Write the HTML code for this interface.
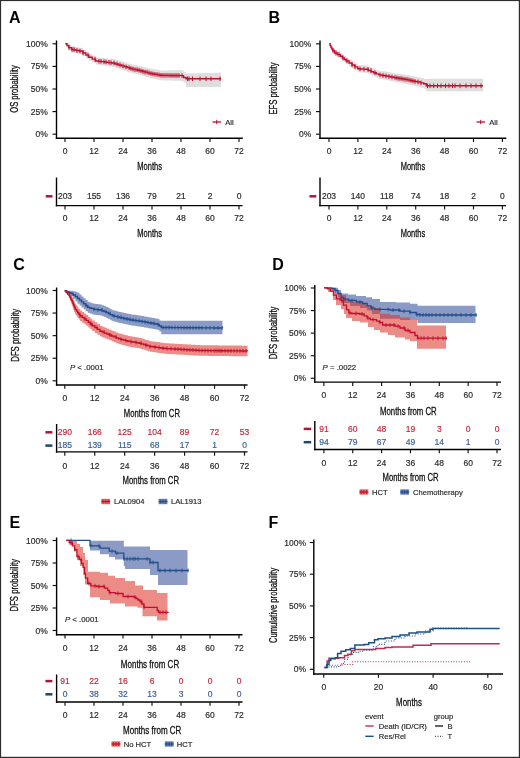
<!DOCTYPE html>
<html><head><meta charset="utf-8"><style>
html,body{margin:0;padding:0;background:#fff;}
body{width:520px;height:758px;overflow:hidden;font-family:"Liberation Sans",sans-serif;}
svg{display:block;will-change:transform;}
</style></head><body>
<svg width="520" height="758" viewBox="0 0 520 758">
<rect x="0" y="0" width="520" height="758" fill="#fff"/>
<text x="9.00" y="22.50" font-size="16" text-anchor="start" fill="#000" font-weight="bold" font-family="Liberation Sans">A</text>
<line x1="56.50" y1="40.50" x2="56.50" y2="139.00" stroke="#000" stroke-width="1.4" />
<line x1="55.80" y1="138.30" x2="242.80" y2="138.30" stroke="#000" stroke-width="1.4" />
<line x1="52.50" y1="134.20" x2="56.50" y2="134.20" stroke="#111" stroke-width="1.15" />
<text x="47.80" y="137.20" font-size="8.5" text-anchor="end" fill="#2b2b2b" font-weight="normal" font-family="Liberation Sans" stroke="#2b2b2b" stroke-width="0.18">0%</text>
<line x1="52.50" y1="111.60" x2="56.50" y2="111.60" stroke="#111" stroke-width="1.15" />
<text x="47.80" y="114.60" font-size="8.5" text-anchor="end" fill="#2b2b2b" font-weight="normal" font-family="Liberation Sans" stroke="#2b2b2b" stroke-width="0.18">25%</text>
<line x1="52.50" y1="89.00" x2="56.50" y2="89.00" stroke="#111" stroke-width="1.15" />
<text x="47.80" y="92.00" font-size="8.5" text-anchor="end" fill="#2b2b2b" font-weight="normal" font-family="Liberation Sans" stroke="#2b2b2b" stroke-width="0.18">50%</text>
<line x1="52.50" y1="66.40" x2="56.50" y2="66.40" stroke="#111" stroke-width="1.15" />
<text x="47.80" y="69.40" font-size="8.5" text-anchor="end" fill="#2b2b2b" font-weight="normal" font-family="Liberation Sans" stroke="#2b2b2b" stroke-width="0.18">75%</text>
<line x1="52.50" y1="43.80" x2="56.50" y2="43.80" stroke="#111" stroke-width="1.15" />
<text x="47.80" y="46.80" font-size="8.5" text-anchor="end" fill="#2b2b2b" font-weight="normal" font-family="Liberation Sans" stroke="#2b2b2b" stroke-width="0.18">100%</text>
<line x1="65.00" y1="138.30" x2="65.00" y2="142.10" stroke="#111" stroke-width="1.15" />
<text x="65.00" y="153.80" font-size="8.5" text-anchor="middle" fill="#2b2b2b" font-weight="normal" font-family="Liberation Sans" stroke="#2b2b2b" stroke-width="0.18">0</text>
<line x1="94.00" y1="138.30" x2="94.00" y2="142.10" stroke="#111" stroke-width="1.15" />
<text x="94.00" y="153.80" font-size="8.5" text-anchor="middle" fill="#2b2b2b" font-weight="normal" font-family="Liberation Sans" stroke="#2b2b2b" stroke-width="0.18">12</text>
<line x1="123.00" y1="138.30" x2="123.00" y2="142.10" stroke="#111" stroke-width="1.15" />
<text x="123.00" y="153.80" font-size="8.5" text-anchor="middle" fill="#2b2b2b" font-weight="normal" font-family="Liberation Sans" stroke="#2b2b2b" stroke-width="0.18">24</text>
<line x1="152.00" y1="138.30" x2="152.00" y2="142.10" stroke="#111" stroke-width="1.15" />
<text x="152.00" y="153.80" font-size="8.5" text-anchor="middle" fill="#2b2b2b" font-weight="normal" font-family="Liberation Sans" stroke="#2b2b2b" stroke-width="0.18">36</text>
<line x1="181.00" y1="138.30" x2="181.00" y2="142.10" stroke="#111" stroke-width="1.15" />
<text x="181.00" y="153.80" font-size="8.5" text-anchor="middle" fill="#2b2b2b" font-weight="normal" font-family="Liberation Sans" stroke="#2b2b2b" stroke-width="0.18">48</text>
<line x1="210.00" y1="138.30" x2="210.00" y2="142.10" stroke="#111" stroke-width="1.15" />
<text x="210.00" y="153.80" font-size="8.5" text-anchor="middle" fill="#2b2b2b" font-weight="normal" font-family="Liberation Sans" stroke="#2b2b2b" stroke-width="0.18">60</text>
<line x1="239.00" y1="138.30" x2="239.00" y2="142.10" stroke="#111" stroke-width="1.15" />
<text x="239.00" y="153.80" font-size="8.5" text-anchor="middle" fill="#2b2b2b" font-weight="normal" font-family="Liberation Sans" stroke="#2b2b2b" stroke-width="0.18">72</text>
<text x="18.10" y="89.00" font-size="10.6" text-anchor="middle" fill="#111" stroke="#111" stroke-width="0.3" font-family="Liberation Sans" textLength="47.5" lengthAdjust="spacingAndGlyphs" transform="rotate(-90 18.10 89.00)">OS probability</text>
<text x="149.60" y="169.60" font-size="10.9" text-anchor="middle" fill="#111" stroke="#111" stroke-width="0.3" font-family="Liberation Sans" textLength="24.6" lengthAdjust="spacingAndGlyphs">Months</text>
<path d="M65.30,43.79H67.00V44.10H68.70V44.81H71.50V46.37H74.07V46.82H76.63V47.27H79.20V47.72H83.00V49.64H85.90V51.68H88.80V53.72H92.20V55.56H95.60V57.39H98.47V57.66H101.33V57.94H104.20V58.22H106.80V58.50H109.40V58.78H112.00V59.06H115.17V59.96H118.33V60.87H121.50V61.77H124.33V62.58H127.17V63.39H130.00V64.20H132.50V64.73H135.00V65.25H137.50V65.77H140.00V66.30H142.50V66.92H145.00V67.55H147.50V68.17H150.00V68.80H152.50V69.20H155.00V69.60H157.50V70.00H160.00V70.40H162.50V70.39H165.00V70.38H167.50V70.36H170.00V70.35H172.50V70.34H175.00V70.32H177.50V70.31H180.00V70.30H183.50V72.13H186.00V73.38H188.50V73.33H191.00V73.28H193.50V73.23H196.00V73.18H198.50V73.13H201.00V73.08H203.50V73.03H206.00V72.98H208.50V72.93H211.00V72.88H213.50V72.83H216.00V72.78H218.50V72.73H221.00V72.68L221.00,87.10L221.00,87.10L218.50,87.10L218.50,87.10L216.00,87.10L216.00,87.10L213.50,87.10L213.50,87.10L211.00,87.10L211.00,87.10L208.50,87.10L208.50,87.10L206.00,87.10L206.00,87.10L203.50,87.10L203.50,87.10L201.00,87.10L201.00,87.10L198.50,87.10L198.50,87.10L196.00,87.10L196.00,87.10L193.50,87.10L193.50,87.10L191.00,87.10L191.00,87.10L188.50,87.10L188.50,87.10L186.00,87.10L186.00,82.87L183.50,82.87L183.50,80.90L180.00,80.90L180.00,80.81L177.50,80.81L177.50,80.72L175.00,80.72L175.00,80.64L172.50,80.64L172.50,80.55L170.00,80.55L170.00,80.46L167.50,80.46L167.50,80.38L165.00,80.38L165.00,80.29L162.50,80.29L162.50,80.20L160.00,80.20L160.00,79.70L157.50,79.70L157.50,79.20L155.00,79.20L155.00,78.70L152.50,78.70L152.50,78.20L150.00,78.20L150.00,77.48L147.50,77.48L147.50,76.75L145.00,76.75L145.00,76.02L142.50,76.02L142.50,75.30L140.00,75.30L140.00,74.67L137.50,74.67L137.50,74.05L135.00,74.05L135.00,73.42L132.50,73.42L132.50,72.80L130.00,72.80L130.00,71.88L127.17,71.88L127.17,70.95L124.33,70.95L124.33,70.03L121.50,70.03L121.50,69.00L118.33,69.00L118.33,67.97L115.17,67.97L115.17,66.94L112.00,66.94L112.00,66.55L109.40,66.55L109.40,66.17L106.80,66.17L106.80,65.78L104.20,65.78L104.20,65.39L101.33,65.39L101.33,65.00L98.47,65.00L98.47,64.61L95.60,64.61L95.60,62.64L92.20,62.64L92.20,60.68L88.80,60.68L88.80,58.52L85.90,58.52L85.90,56.36L83.00,56.36L83.00,54.28L79.20,54.28L79.20,53.73L76.63,53.73L76.63,53.18L74.07,53.18L74.07,52.63L71.50,52.63L71.50,50.39L68.70,50.39L68.70,46.90L67.00,46.90L67.00,43.81L65.30,43.81Z" fill="#dedede" fill-opacity="1.0" stroke="none"/>
<path d="M65.30,43.80H67.00V45.50H68.70V47.60H71.50V49.50H74.07V50.00H76.63V50.50H79.20V51.00H83.00V53.00H85.90V55.10H88.80V57.20H92.20V59.10H95.60V61.00H98.47V61.33H101.33V61.67H104.20V62.00H106.80V62.33H109.40V62.67H112.00V63.00H115.17V63.97H118.33V64.93H121.50V65.90H124.33V66.77H127.17V67.63H130.00V68.50H132.50V69.08H135.00V69.65H137.50V70.22H140.00V70.80H142.50V71.47H145.00V72.15H147.50V72.83H150.00V73.50H152.50V73.95H155.00V74.40H157.50V74.85H160.00V75.30H162.50V75.34H165.00V75.38H167.50V75.41H170.00V75.45H172.50V75.49H175.00V75.52H177.50V75.56H180.00V75.60H183.50V77.50H186.00V78.80H188.50V78.80H191.00V78.80H193.50V78.80H196.00V78.80H198.50V78.80H201.00V78.80H203.50V78.80H206.00V78.80H208.50V78.80H211.00V78.80H213.50V78.80H216.00V78.80H218.50V78.80H221.00V78.80" fill="none" stroke="#c20e2e" stroke-width="1.4" />
<line x1="69.00" y1="45.30" x2="69.00" y2="49.90" stroke="#c20e2e" stroke-width="1.0" />
<line x1="72.00" y1="47.20" x2="72.00" y2="51.80" stroke="#c20e2e" stroke-width="1.0" />
<line x1="74.00" y1="47.20" x2="74.00" y2="51.80" stroke="#c20e2e" stroke-width="1.0" />
<line x1="77.00" y1="48.20" x2="77.00" y2="52.80" stroke="#c20e2e" stroke-width="1.0" />
<line x1="80.00" y1="48.70" x2="80.00" y2="53.30" stroke="#c20e2e" stroke-width="1.0" />
<line x1="83.00" y1="50.70" x2="83.00" y2="55.30" stroke="#c20e2e" stroke-width="1.0" />
<line x1="88.00" y1="52.80" x2="88.00" y2="57.40" stroke="#c20e2e" stroke-width="1.0" />
<line x1="95.00" y1="56.80" x2="95.00" y2="61.40" stroke="#c20e2e" stroke-width="1.0" />
<line x1="99.00" y1="59.03" x2="99.00" y2="63.63" stroke="#c20e2e" stroke-width="1.0" />
<line x1="101.00" y1="59.03" x2="101.00" y2="63.63" stroke="#c20e2e" stroke-width="1.0" />
<line x1="104.00" y1="59.37" x2="104.00" y2="63.97" stroke="#c20e2e" stroke-width="1.0" />
<line x1="106.00" y1="59.70" x2="106.00" y2="64.30" stroke="#c20e2e" stroke-width="1.0" />
<line x1="109.00" y1="60.03" x2="109.00" y2="64.63" stroke="#c20e2e" stroke-width="1.0" />
<line x1="111.00" y1="60.37" x2="111.00" y2="64.97" stroke="#c20e2e" stroke-width="1.0" />
<line x1="114.00" y1="60.70" x2="114.00" y2="65.30" stroke="#c20e2e" stroke-width="1.0" />
<line x1="117.00" y1="61.67" x2="117.00" y2="66.27" stroke="#c20e2e" stroke-width="1.0" />
<line x1="120.00" y1="62.63" x2="120.00" y2="67.23" stroke="#c20e2e" stroke-width="1.0" />
<line x1="123.00" y1="63.60" x2="123.00" y2="68.20" stroke="#c20e2e" stroke-width="1.0" />
<line x1="126.00" y1="64.47" x2="126.00" y2="69.07" stroke="#c20e2e" stroke-width="1.0" />
<line x1="129.00" y1="65.33" x2="129.00" y2="69.93" stroke="#c20e2e" stroke-width="1.0" />
<line x1="131.00" y1="66.20" x2="131.00" y2="70.80" stroke="#c20e2e" stroke-width="1.0" />
<line x1="133.00" y1="66.78" x2="133.00" y2="71.38" stroke="#c20e2e" stroke-width="1.0" />
<line x1="135.00" y1="67.35" x2="135.00" y2="71.95" stroke="#c20e2e" stroke-width="1.0" />
<line x1="137.00" y1="67.35" x2="137.00" y2="71.95" stroke="#c20e2e" stroke-width="1.0" />
<line x1="139.00" y1="67.92" x2="139.00" y2="72.52" stroke="#c20e2e" stroke-width="1.0" />
<line x1="141.00" y1="68.50" x2="141.00" y2="73.10" stroke="#c20e2e" stroke-width="1.0" />
<line x1="143.00" y1="69.17" x2="143.00" y2="73.77" stroke="#c20e2e" stroke-width="1.0" />
<line x1="145.00" y1="69.85" x2="145.00" y2="74.45" stroke="#c20e2e" stroke-width="1.0" />
<line x1="147.00" y1="69.85" x2="147.00" y2="74.45" stroke="#c20e2e" stroke-width="1.0" />
<line x1="149.00" y1="70.53" x2="149.00" y2="75.12" stroke="#c20e2e" stroke-width="1.0" />
<line x1="151.00" y1="71.20" x2="151.00" y2="75.80" stroke="#c20e2e" stroke-width="1.0" />
<line x1="153.00" y1="71.65" x2="153.00" y2="76.25" stroke="#c20e2e" stroke-width="1.0" />
<line x1="155.00" y1="72.10" x2="155.00" y2="76.70" stroke="#c20e2e" stroke-width="1.0" />
<line x1="157.00" y1="72.10" x2="157.00" y2="76.70" stroke="#c20e2e" stroke-width="1.0" />
<line x1="159.00" y1="72.55" x2="159.00" y2="77.15" stroke="#c20e2e" stroke-width="1.0" />
<line x1="161.00" y1="73.00" x2="161.00" y2="77.60" stroke="#c20e2e" stroke-width="1.0" />
<line x1="163.00" y1="73.04" x2="163.00" y2="77.64" stroke="#c20e2e" stroke-width="1.0" />
<line x1="165.00" y1="73.08" x2="165.00" y2="77.67" stroke="#c20e2e" stroke-width="1.0" />
<line x1="167.00" y1="73.08" x2="167.00" y2="77.67" stroke="#c20e2e" stroke-width="1.0" />
<line x1="169.00" y1="73.11" x2="169.00" y2="77.71" stroke="#c20e2e" stroke-width="1.0" />
<line x1="171.00" y1="73.15" x2="171.00" y2="77.75" stroke="#c20e2e" stroke-width="1.0" />
<line x1="173.00" y1="73.19" x2="173.00" y2="77.79" stroke="#c20e2e" stroke-width="1.0" />
<line x1="175.00" y1="73.22" x2="175.00" y2="77.82" stroke="#c20e2e" stroke-width="1.0" />
<line x1="177.00" y1="73.22" x2="177.00" y2="77.82" stroke="#c20e2e" stroke-width="1.0" />
<line x1="179.00" y1="73.26" x2="179.00" y2="77.86" stroke="#c20e2e" stroke-width="1.0" />
<line x1="182.00" y1="73.30" x2="182.00" y2="77.90" stroke="#c20e2e" stroke-width="1.0" />
<line x1="187.50" y1="76.50" x2="187.50" y2="81.10" stroke="#c20e2e" stroke-width="1.0" />
<line x1="189.00" y1="76.50" x2="189.00" y2="81.10" stroke="#c20e2e" stroke-width="1.0" />
<line x1="192.50" y1="76.50" x2="192.50" y2="81.10" stroke="#c20e2e" stroke-width="1.0" />
<line x1="200.00" y1="76.50" x2="200.00" y2="81.10" stroke="#c20e2e" stroke-width="1.0" />
<line x1="206.00" y1="76.50" x2="206.00" y2="81.10" stroke="#c20e2e" stroke-width="1.0" />
<line x1="211.00" y1="76.50" x2="211.00" y2="81.10" stroke="#c20e2e" stroke-width="1.0" />
<line x1="220.00" y1="76.50" x2="220.00" y2="81.10" stroke="#c20e2e" stroke-width="1.0" />
<line x1="212.50" y1="122.00" x2="221.00" y2="122.00" stroke="#c20e2e" stroke-width="1.3" />
<line x1="216.70" y1="119.80" x2="216.70" y2="124.20" stroke="#c20e2e" stroke-width="1.0" />
<text x="225.30" y="124.70" font-size="7.6" text-anchor="start" fill="#2b2b2b" font-weight="normal" font-family="Liberation Sans" stroke="#2b2b2b" stroke-width="0.18">All</text>
<line x1="56.50" y1="177.50" x2="56.50" y2="206.30" stroke="#000" stroke-width="1.4" />
<line x1="55.80" y1="205.60" x2="242.50" y2="205.60" stroke="#000" stroke-width="1.4" />
<line x1="65.00" y1="205.60" x2="65.00" y2="209.40" stroke="#111" stroke-width="1.15" />
<text x="65.00" y="221.00" font-size="8.5" text-anchor="middle" fill="#2b2b2b" font-weight="normal" font-family="Liberation Sans" stroke="#2b2b2b" stroke-width="0.18">0</text>
<line x1="94.00" y1="205.60" x2="94.00" y2="209.40" stroke="#111" stroke-width="1.15" />
<text x="94.00" y="221.00" font-size="8.5" text-anchor="middle" fill="#2b2b2b" font-weight="normal" font-family="Liberation Sans" stroke="#2b2b2b" stroke-width="0.18">12</text>
<line x1="123.00" y1="205.60" x2="123.00" y2="209.40" stroke="#111" stroke-width="1.15" />
<text x="123.00" y="221.00" font-size="8.5" text-anchor="middle" fill="#2b2b2b" font-weight="normal" font-family="Liberation Sans" stroke="#2b2b2b" stroke-width="0.18">24</text>
<line x1="152.00" y1="205.60" x2="152.00" y2="209.40" stroke="#111" stroke-width="1.15" />
<text x="152.00" y="221.00" font-size="8.5" text-anchor="middle" fill="#2b2b2b" font-weight="normal" font-family="Liberation Sans" stroke="#2b2b2b" stroke-width="0.18">36</text>
<line x1="181.00" y1="205.60" x2="181.00" y2="209.40" stroke="#111" stroke-width="1.15" />
<text x="181.00" y="221.00" font-size="8.5" text-anchor="middle" fill="#2b2b2b" font-weight="normal" font-family="Liberation Sans" stroke="#2b2b2b" stroke-width="0.18">48</text>
<line x1="210.00" y1="205.60" x2="210.00" y2="209.40" stroke="#111" stroke-width="1.15" />
<text x="210.00" y="221.00" font-size="8.5" text-anchor="middle" fill="#2b2b2b" font-weight="normal" font-family="Liberation Sans" stroke="#2b2b2b" stroke-width="0.18">60</text>
<line x1="239.00" y1="205.60" x2="239.00" y2="209.40" stroke="#111" stroke-width="1.15" />
<text x="239.00" y="221.00" font-size="8.5" text-anchor="middle" fill="#2b2b2b" font-weight="normal" font-family="Liberation Sans" stroke="#2b2b2b" stroke-width="0.18">72</text>
<line x1="45.70" y1="196.30" x2="52.50" y2="196.30" stroke="#a8183a" stroke-width="2.5" />
<text x="65.00" y="199.00" font-size="8.5" text-anchor="middle" fill="#2b2b2b" font-weight="normal" font-family="Liberation Sans" stroke="#2b2b2b" stroke-width="0.18">203</text>
<text x="94.00" y="199.00" font-size="8.5" text-anchor="middle" fill="#2b2b2b" font-weight="normal" font-family="Liberation Sans" stroke="#2b2b2b" stroke-width="0.18">155</text>
<text x="123.00" y="199.00" font-size="8.5" text-anchor="middle" fill="#2b2b2b" font-weight="normal" font-family="Liberation Sans" stroke="#2b2b2b" stroke-width="0.18">136</text>
<text x="152.00" y="199.00" font-size="8.5" text-anchor="middle" fill="#2b2b2b" font-weight="normal" font-family="Liberation Sans" stroke="#2b2b2b" stroke-width="0.18">79</text>
<text x="181.00" y="199.00" font-size="8.5" text-anchor="middle" fill="#2b2b2b" font-weight="normal" font-family="Liberation Sans" stroke="#2b2b2b" stroke-width="0.18">21</text>
<text x="210.00" y="199.00" font-size="8.5" text-anchor="middle" fill="#2b2b2b" font-weight="normal" font-family="Liberation Sans" stroke="#2b2b2b" stroke-width="0.18">2</text>
<text x="239.00" y="199.00" font-size="8.5" text-anchor="middle" fill="#2b2b2b" font-weight="normal" font-family="Liberation Sans" stroke="#2b2b2b" stroke-width="0.18">0</text>
<text x="149.60" y="236.60" font-size="10.9" text-anchor="middle" fill="#111" stroke="#111" stroke-width="0.3" font-family="Liberation Sans" textLength="24.6" lengthAdjust="spacingAndGlyphs">Months</text>
<text x="268.50" y="22.50" font-size="16" text-anchor="start" fill="#000" font-weight="bold" font-family="Liberation Sans">B</text>
<line x1="320.00" y1="40.50" x2="320.00" y2="139.00" stroke="#000" stroke-width="1.4" />
<line x1="319.30" y1="138.30" x2="506.30" y2="138.30" stroke="#000" stroke-width="1.4" />
<line x1="316.00" y1="134.20" x2="320.00" y2="134.20" stroke="#111" stroke-width="1.15" />
<text x="311.30" y="137.20" font-size="8.5" text-anchor="end" fill="#2b2b2b" font-weight="normal" font-family="Liberation Sans" stroke="#2b2b2b" stroke-width="0.18">0%</text>
<line x1="316.00" y1="111.60" x2="320.00" y2="111.60" stroke="#111" stroke-width="1.15" />
<text x="311.30" y="114.60" font-size="8.5" text-anchor="end" fill="#2b2b2b" font-weight="normal" font-family="Liberation Sans" stroke="#2b2b2b" stroke-width="0.18">25%</text>
<line x1="316.00" y1="89.00" x2="320.00" y2="89.00" stroke="#111" stroke-width="1.15" />
<text x="311.30" y="92.00" font-size="8.5" text-anchor="end" fill="#2b2b2b" font-weight="normal" font-family="Liberation Sans" stroke="#2b2b2b" stroke-width="0.18">50%</text>
<line x1="316.00" y1="66.40" x2="320.00" y2="66.40" stroke="#111" stroke-width="1.15" />
<text x="311.30" y="69.40" font-size="8.5" text-anchor="end" fill="#2b2b2b" font-weight="normal" font-family="Liberation Sans" stroke="#2b2b2b" stroke-width="0.18">75%</text>
<line x1="316.00" y1="43.80" x2="320.00" y2="43.80" stroke="#111" stroke-width="1.15" />
<text x="311.30" y="46.80" font-size="8.5" text-anchor="end" fill="#2b2b2b" font-weight="normal" font-family="Liberation Sans" stroke="#2b2b2b" stroke-width="0.18">100%</text>
<line x1="329.00" y1="138.30" x2="329.00" y2="142.10" stroke="#111" stroke-width="1.15" />
<text x="329.00" y="153.80" font-size="8.5" text-anchor="middle" fill="#2b2b2b" font-weight="normal" font-family="Liberation Sans" stroke="#2b2b2b" stroke-width="0.18">0</text>
<line x1="357.90" y1="138.30" x2="357.90" y2="142.10" stroke="#111" stroke-width="1.15" />
<text x="357.90" y="153.80" font-size="8.5" text-anchor="middle" fill="#2b2b2b" font-weight="normal" font-family="Liberation Sans" stroke="#2b2b2b" stroke-width="0.18">12</text>
<line x1="386.80" y1="138.30" x2="386.80" y2="142.10" stroke="#111" stroke-width="1.15" />
<text x="386.80" y="153.80" font-size="8.5" text-anchor="middle" fill="#2b2b2b" font-weight="normal" font-family="Liberation Sans" stroke="#2b2b2b" stroke-width="0.18">24</text>
<line x1="415.70" y1="138.30" x2="415.70" y2="142.10" stroke="#111" stroke-width="1.15" />
<text x="415.70" y="153.80" font-size="8.5" text-anchor="middle" fill="#2b2b2b" font-weight="normal" font-family="Liberation Sans" stroke="#2b2b2b" stroke-width="0.18">36</text>
<line x1="444.60" y1="138.30" x2="444.60" y2="142.10" stroke="#111" stroke-width="1.15" />
<text x="444.60" y="153.80" font-size="8.5" text-anchor="middle" fill="#2b2b2b" font-weight="normal" font-family="Liberation Sans" stroke="#2b2b2b" stroke-width="0.18">48</text>
<line x1="473.50" y1="138.30" x2="473.50" y2="142.10" stroke="#111" stroke-width="1.15" />
<text x="473.50" y="153.80" font-size="8.5" text-anchor="middle" fill="#2b2b2b" font-weight="normal" font-family="Liberation Sans" stroke="#2b2b2b" stroke-width="0.18">60</text>
<line x1="502.40" y1="138.30" x2="502.40" y2="142.10" stroke="#111" stroke-width="1.15" />
<text x="502.40" y="153.80" font-size="8.5" text-anchor="middle" fill="#2b2b2b" font-weight="normal" font-family="Liberation Sans" stroke="#2b2b2b" stroke-width="0.18">72</text>
<text x="277.20" y="88.50" font-size="10.6" text-anchor="middle" fill="#111" stroke="#111" stroke-width="0.3" font-family="Liberation Sans" textLength="52.2" lengthAdjust="spacingAndGlyphs" transform="rotate(-90 277.20 88.50)">EFS probability</text>
<text x="413.00" y="169.60" font-size="10.9" text-anchor="middle" fill="#111" stroke="#111" stroke-width="0.3" font-family="Liberation Sans" textLength="24.6" lengthAdjust="spacingAndGlyphs">Months</text>
<path d="M329.20,43.80H330.10V44.91H331.00V46.02H331.85V46.82H332.70V47.63H334.60V49.89H337.50V51.48H340.40V53.07H342.33V54.60H344.27V56.13H346.20V57.66H349.10V59.60H352.00V61.54H354.85V63.38H357.70V65.23H360.27V65.34H362.83V65.46H365.40V65.57H368.30V66.71H371.20V67.86H373.73V68.87H376.27V69.89H378.80V70.90H382.03V71.37H385.27V71.84H388.50V72.31H391.00V72.76H393.50V73.21H396.00V73.66H399.00V74.07H402.00V74.47H405.00V74.88H407.50V75.35H410.00V75.82H412.50V76.29H415.00V76.76H417.50V77.23H420.60V78.07H423.70V78.91H426.20V78.80H428.78V78.80H431.36V78.80H433.95V78.80H436.53V78.80H439.11V78.80H441.69V78.80H444.27V78.80H446.85V78.80H449.44V78.80H452.02V78.80H454.60V78.80H457.18V78.80H459.76V78.80H462.35V78.80H464.93V78.80H467.51V78.80H470.09V78.80H472.67V78.80H475.25V78.80H477.84V78.80H480.42V78.80H483.00V78.80L483.00,91.30L483.00,91.30L480.42,91.30L480.42,91.30L477.84,91.30L477.84,91.30L475.25,91.30L475.25,91.30L472.67,91.30L472.67,91.30L470.09,91.30L470.09,91.30L467.51,91.30L467.51,91.30L464.93,91.30L464.93,91.30L462.35,91.30L462.35,91.30L459.76,91.30L459.76,91.30L457.18,91.30L457.18,91.30L454.60,91.30L454.60,91.30L452.02,91.30L452.02,91.30L449.44,91.30L449.44,91.30L446.85,91.30L446.85,91.30L444.27,91.30L444.27,91.30L441.69,91.30L441.69,91.30L439.11,91.30L439.11,91.30L436.53,91.30L436.53,91.30L433.95,91.30L433.95,91.30L431.36,91.30L431.36,91.30L428.78,91.30L428.78,91.30L426.20,91.30L426.20,88.69L423.70,88.69L423.70,87.73L420.60,87.73L420.60,86.77L417.50,86.77L417.50,86.20L415.00,86.20L415.00,85.63L412.50,85.63L412.50,85.06L410.00,85.06L410.00,84.49L407.50,84.49L407.50,83.92L405.00,83.92L405.00,83.39L402.00,83.39L402.00,82.87L399.00,82.87L399.00,82.34L396.00,82.34L396.00,81.79L393.50,81.79L393.50,81.24L391.00,81.24L391.00,80.69L388.50,80.69L388.50,80.09L385.27,80.09L385.27,79.49L382.03,79.49L382.03,78.90L378.80,78.90L378.80,77.78L376.27,77.78L376.27,76.66L373.73,76.66L373.73,75.54L371.20,75.54L371.20,74.29L368.30,74.29L368.30,73.03L365.40,73.03L365.40,72.81L362.83,72.81L362.83,72.59L360.27,72.59L360.27,72.37L357.70,72.37L357.70,70.42L354.85,70.42L354.85,68.46L352.00,68.46L352.00,66.40L349.10,66.40L349.10,64.34L346.20,64.34L346.20,62.74L344.27,62.74L344.27,61.13L342.33,61.13L342.33,59.53L340.40,59.53L340.40,57.82L337.50,57.82L337.50,56.11L334.60,56.11L334.60,53.37L332.70,53.37L332.70,51.18L331.85,51.18L331.85,48.98L331.00,48.98L331.00,46.39L330.10,46.39L330.10,43.80L329.20,43.80Z" fill="#dedede" fill-opacity="1.0" stroke="none"/>
<path d="M329.20,43.80H330.10V45.65H331.00V47.50H331.85V49.00H332.70V50.50H334.60V53.00H337.50V54.65H340.40V56.30H342.33V57.87H344.27V59.43H346.20V61.00H349.10V63.00H352.00V65.00H354.85V66.90H357.70V68.80H360.27V68.97H362.83V69.13H365.40V69.30H368.30V70.50H371.20V71.70H373.73V72.77H376.27V73.83H378.80V74.90H382.03V75.43H385.27V75.97H388.50V76.50H391.00V77.00H393.50V77.50H396.00V78.00H399.00V78.47H402.00V78.93H405.00V79.40H407.50V79.92H410.00V80.44H412.50V80.96H415.00V81.48H417.50V82.00H420.60V82.90H423.70V83.80H426.20V85.80H428.78V85.80H431.36V85.80H433.95V85.80H436.53V85.80H439.11V85.80H441.69V85.80H444.27V85.80H446.85V85.80H449.44V85.80H452.02V85.80H454.60V85.80H457.18V85.80H459.76V85.80H462.35V85.80H464.93V85.80H467.51V85.80H470.09V85.80H472.67V85.80H475.25V85.80H477.84V85.80H480.42V85.80H483.00V85.80" fill="none" stroke="#c20e2e" stroke-width="1.4" />
<line x1="333.00" y1="48.20" x2="333.00" y2="52.80" stroke="#c20e2e" stroke-width="1.0" />
<line x1="336.00" y1="50.70" x2="336.00" y2="55.30" stroke="#c20e2e" stroke-width="1.0" />
<line x1="339.00" y1="52.35" x2="339.00" y2="56.95" stroke="#c20e2e" stroke-width="1.0" />
<line x1="343.00" y1="55.57" x2="343.00" y2="60.17" stroke="#c20e2e" stroke-width="1.0" />
<line x1="347.00" y1="58.70" x2="347.00" y2="63.30" stroke="#c20e2e" stroke-width="1.0" />
<line x1="352.00" y1="62.70" x2="352.00" y2="67.30" stroke="#c20e2e" stroke-width="1.0" />
<line x1="355.00" y1="64.60" x2="355.00" y2="69.20" stroke="#c20e2e" stroke-width="1.0" />
<line x1="360.00" y1="66.50" x2="360.00" y2="71.10" stroke="#c20e2e" stroke-width="1.0" />
<line x1="364.00" y1="66.83" x2="364.00" y2="71.43" stroke="#c20e2e" stroke-width="1.0" />
<line x1="368.00" y1="67.00" x2="368.00" y2="71.60" stroke="#c20e2e" stroke-width="1.0" />
<line x1="371.00" y1="68.20" x2="371.00" y2="72.80" stroke="#c20e2e" stroke-width="1.0" />
<line x1="375.00" y1="70.47" x2="375.00" y2="75.07" stroke="#c20e2e" stroke-width="1.0" />
<line x1="380.00" y1="72.60" x2="380.00" y2="77.20" stroke="#c20e2e" stroke-width="1.0" />
<line x1="383.00" y1="73.13" x2="383.00" y2="77.73" stroke="#c20e2e" stroke-width="1.0" />
<line x1="386.00" y1="73.67" x2="386.00" y2="78.27" stroke="#c20e2e" stroke-width="1.0" />
<line x1="389.00" y1="74.20" x2="389.00" y2="78.80" stroke="#c20e2e" stroke-width="1.0" />
<line x1="392.00" y1="74.70" x2="392.00" y2="79.30" stroke="#c20e2e" stroke-width="1.0" />
<line x1="395.00" y1="75.20" x2="395.00" y2="79.80" stroke="#c20e2e" stroke-width="1.0" />
<line x1="397.00" y1="75.70" x2="397.00" y2="80.30" stroke="#c20e2e" stroke-width="1.0" />
<line x1="399.00" y1="76.17" x2="399.00" y2="80.77" stroke="#c20e2e" stroke-width="1.0" />
<line x1="401.00" y1="76.17" x2="401.00" y2="80.77" stroke="#c20e2e" stroke-width="1.0" />
<line x1="403.00" y1="76.63" x2="403.00" y2="81.23" stroke="#c20e2e" stroke-width="1.0" />
<line x1="405.00" y1="77.10" x2="405.00" y2="81.70" stroke="#c20e2e" stroke-width="1.0" />
<line x1="407.00" y1="77.10" x2="407.00" y2="81.70" stroke="#c20e2e" stroke-width="1.0" />
<line x1="409.00" y1="77.62" x2="409.00" y2="82.22" stroke="#c20e2e" stroke-width="1.0" />
<line x1="411.00" y1="78.14" x2="411.00" y2="82.74" stroke="#c20e2e" stroke-width="1.0" />
<line x1="413.00" y1="78.66" x2="413.00" y2="83.26" stroke="#c20e2e" stroke-width="1.0" />
<line x1="415.00" y1="79.18" x2="415.00" y2="83.78" stroke="#c20e2e" stroke-width="1.0" />
<line x1="418.00" y1="79.70" x2="418.00" y2="84.30" stroke="#c20e2e" stroke-width="1.0" />
<line x1="421.00" y1="80.60" x2="421.00" y2="85.20" stroke="#c20e2e" stroke-width="1.0" />
<line x1="427.50" y1="83.50" x2="427.50" y2="88.10" stroke="#c20e2e" stroke-width="1.0" />
<line x1="430.00" y1="83.50" x2="430.00" y2="88.10" stroke="#c20e2e" stroke-width="1.0" />
<line x1="433.70" y1="83.50" x2="433.70" y2="88.10" stroke="#c20e2e" stroke-width="1.0" />
<line x1="437.50" y1="83.50" x2="437.50" y2="88.10" stroke="#c20e2e" stroke-width="1.0" />
<line x1="441.00" y1="83.50" x2="441.00" y2="88.10" stroke="#c20e2e" stroke-width="1.0" />
<line x1="445.50" y1="83.50" x2="445.50" y2="88.10" stroke="#c20e2e" stroke-width="1.0" />
<line x1="449.00" y1="83.50" x2="449.00" y2="88.10" stroke="#c20e2e" stroke-width="1.0" />
<line x1="452.50" y1="83.50" x2="452.50" y2="88.10" stroke="#c20e2e" stroke-width="1.0" />
<line x1="455.00" y1="83.50" x2="455.00" y2="88.10" stroke="#c20e2e" stroke-width="1.0" />
<line x1="460.00" y1="83.50" x2="460.00" y2="88.10" stroke="#c20e2e" stroke-width="1.0" />
<line x1="466.00" y1="83.50" x2="466.00" y2="88.10" stroke="#c20e2e" stroke-width="1.0" />
<line x1="471.00" y1="83.50" x2="471.00" y2="88.10" stroke="#c20e2e" stroke-width="1.0" />
<line x1="476.00" y1="83.50" x2="476.00" y2="88.10" stroke="#c20e2e" stroke-width="1.0" />
<line x1="481.00" y1="83.50" x2="481.00" y2="88.10" stroke="#c20e2e" stroke-width="1.0" />
<line x1="476.50" y1="122.00" x2="485.00" y2="122.00" stroke="#c20e2e" stroke-width="1.3" />
<line x1="480.70" y1="119.80" x2="480.70" y2="124.20" stroke="#c20e2e" stroke-width="1.0" />
<text x="489.30" y="124.70" font-size="7.6" text-anchor="start" fill="#2b2b2b" font-weight="normal" font-family="Liberation Sans" stroke="#2b2b2b" stroke-width="0.18">All</text>
<line x1="320.00" y1="177.50" x2="320.00" y2="206.30" stroke="#000" stroke-width="1.4" />
<line x1="319.30" y1="205.60" x2="506.00" y2="205.60" stroke="#000" stroke-width="1.4" />
<line x1="329.00" y1="205.60" x2="329.00" y2="209.40" stroke="#111" stroke-width="1.15" />
<text x="329.00" y="221.00" font-size="8.5" text-anchor="middle" fill="#2b2b2b" font-weight="normal" font-family="Liberation Sans" stroke="#2b2b2b" stroke-width="0.18">0</text>
<line x1="357.90" y1="205.60" x2="357.90" y2="209.40" stroke="#111" stroke-width="1.15" />
<text x="357.90" y="221.00" font-size="8.5" text-anchor="middle" fill="#2b2b2b" font-weight="normal" font-family="Liberation Sans" stroke="#2b2b2b" stroke-width="0.18">12</text>
<line x1="386.80" y1="205.60" x2="386.80" y2="209.40" stroke="#111" stroke-width="1.15" />
<text x="386.80" y="221.00" font-size="8.5" text-anchor="middle" fill="#2b2b2b" font-weight="normal" font-family="Liberation Sans" stroke="#2b2b2b" stroke-width="0.18">24</text>
<line x1="415.70" y1="205.60" x2="415.70" y2="209.40" stroke="#111" stroke-width="1.15" />
<text x="415.70" y="221.00" font-size="8.5" text-anchor="middle" fill="#2b2b2b" font-weight="normal" font-family="Liberation Sans" stroke="#2b2b2b" stroke-width="0.18">36</text>
<line x1="444.60" y1="205.60" x2="444.60" y2="209.40" stroke="#111" stroke-width="1.15" />
<text x="444.60" y="221.00" font-size="8.5" text-anchor="middle" fill="#2b2b2b" font-weight="normal" font-family="Liberation Sans" stroke="#2b2b2b" stroke-width="0.18">48</text>
<line x1="473.50" y1="205.60" x2="473.50" y2="209.40" stroke="#111" stroke-width="1.15" />
<text x="473.50" y="221.00" font-size="8.5" text-anchor="middle" fill="#2b2b2b" font-weight="normal" font-family="Liberation Sans" stroke="#2b2b2b" stroke-width="0.18">60</text>
<line x1="502.40" y1="205.60" x2="502.40" y2="209.40" stroke="#111" stroke-width="1.15" />
<text x="502.40" y="221.00" font-size="8.5" text-anchor="middle" fill="#2b2b2b" font-weight="normal" font-family="Liberation Sans" stroke="#2b2b2b" stroke-width="0.18">72</text>
<line x1="309.50" y1="196.30" x2="316.30" y2="196.30" stroke="#a8183a" stroke-width="2.5" />
<text x="329.00" y="199.00" font-size="8.5" text-anchor="middle" fill="#2b2b2b" font-weight="normal" font-family="Liberation Sans" stroke="#2b2b2b" stroke-width="0.18">203</text>
<text x="357.90" y="199.00" font-size="8.5" text-anchor="middle" fill="#2b2b2b" font-weight="normal" font-family="Liberation Sans" stroke="#2b2b2b" stroke-width="0.18">140</text>
<text x="386.80" y="199.00" font-size="8.5" text-anchor="middle" fill="#2b2b2b" font-weight="normal" font-family="Liberation Sans" stroke="#2b2b2b" stroke-width="0.18">118</text>
<text x="415.70" y="199.00" font-size="8.5" text-anchor="middle" fill="#2b2b2b" font-weight="normal" font-family="Liberation Sans" stroke="#2b2b2b" stroke-width="0.18">74</text>
<text x="444.60" y="199.00" font-size="8.5" text-anchor="middle" fill="#2b2b2b" font-weight="normal" font-family="Liberation Sans" stroke="#2b2b2b" stroke-width="0.18">18</text>
<text x="473.50" y="199.00" font-size="8.5" text-anchor="middle" fill="#2b2b2b" font-weight="normal" font-family="Liberation Sans" stroke="#2b2b2b" stroke-width="0.18">2</text>
<text x="502.40" y="199.00" font-size="8.5" text-anchor="middle" fill="#2b2b2b" font-weight="normal" font-family="Liberation Sans" stroke="#2b2b2b" stroke-width="0.18">0</text>
<text x="413.00" y="236.60" font-size="10.9" text-anchor="middle" fill="#111" stroke="#111" stroke-width="0.3" font-family="Liberation Sans" textLength="24.6" lengthAdjust="spacingAndGlyphs">Months</text>
<text x="13.30" y="269.50" font-size="16" text-anchor="start" fill="#000" font-weight="bold" font-family="Liberation Sans">C</text>
<line x1="56.60" y1="287.50" x2="56.60" y2="385.70" stroke="#000" stroke-width="1.4" />
<line x1="55.90" y1="385.00" x2="247.50" y2="385.00" stroke="#000" stroke-width="1.4" />
<line x1="52.60" y1="380.80" x2="56.60" y2="380.80" stroke="#111" stroke-width="1.15" />
<text x="47.80" y="383.80" font-size="8.5" text-anchor="end" fill="#2b2b2b" font-weight="normal" font-family="Liberation Sans" stroke="#2b2b2b" stroke-width="0.18">0%</text>
<line x1="52.60" y1="358.23" x2="56.60" y2="358.23" stroke="#111" stroke-width="1.15" />
<text x="47.80" y="361.23" font-size="8.5" text-anchor="end" fill="#2b2b2b" font-weight="normal" font-family="Liberation Sans" stroke="#2b2b2b" stroke-width="0.18">25%</text>
<line x1="52.60" y1="335.65" x2="56.60" y2="335.65" stroke="#111" stroke-width="1.15" />
<text x="47.80" y="338.65" font-size="8.5" text-anchor="end" fill="#2b2b2b" font-weight="normal" font-family="Liberation Sans" stroke="#2b2b2b" stroke-width="0.18">50%</text>
<line x1="52.60" y1="313.07" x2="56.60" y2="313.07" stroke="#111" stroke-width="1.15" />
<text x="47.80" y="316.07" font-size="8.5" text-anchor="end" fill="#2b2b2b" font-weight="normal" font-family="Liberation Sans" stroke="#2b2b2b" stroke-width="0.18">75%</text>
<line x1="52.60" y1="290.50" x2="56.60" y2="290.50" stroke="#111" stroke-width="1.15" />
<text x="47.80" y="293.50" font-size="8.5" text-anchor="end" fill="#2b2b2b" font-weight="normal" font-family="Liberation Sans" stroke="#2b2b2b" stroke-width="0.18">100%</text>
<line x1="64.80" y1="385.00" x2="64.80" y2="388.80" stroke="#111" stroke-width="1.15" />
<text x="64.80" y="400.60" font-size="8.5" text-anchor="middle" fill="#2b2b2b" font-weight="normal" font-family="Liberation Sans" stroke="#2b2b2b" stroke-width="0.18">0</text>
<line x1="94.75" y1="385.00" x2="94.75" y2="388.80" stroke="#111" stroke-width="1.15" />
<text x="94.75" y="400.60" font-size="8.5" text-anchor="middle" fill="#2b2b2b" font-weight="normal" font-family="Liberation Sans" stroke="#2b2b2b" stroke-width="0.18">12</text>
<line x1="124.70" y1="385.00" x2="124.70" y2="388.80" stroke="#111" stroke-width="1.15" />
<text x="124.70" y="400.60" font-size="8.5" text-anchor="middle" fill="#2b2b2b" font-weight="normal" font-family="Liberation Sans" stroke="#2b2b2b" stroke-width="0.18">24</text>
<line x1="154.65" y1="385.00" x2="154.65" y2="388.80" stroke="#111" stroke-width="1.15" />
<text x="154.65" y="400.60" font-size="8.5" text-anchor="middle" fill="#2b2b2b" font-weight="normal" font-family="Liberation Sans" stroke="#2b2b2b" stroke-width="0.18">36</text>
<line x1="184.60" y1="385.00" x2="184.60" y2="388.80" stroke="#111" stroke-width="1.15" />
<text x="184.60" y="400.60" font-size="8.5" text-anchor="middle" fill="#2b2b2b" font-weight="normal" font-family="Liberation Sans" stroke="#2b2b2b" stroke-width="0.18">48</text>
<line x1="214.55" y1="385.00" x2="214.55" y2="388.80" stroke="#111" stroke-width="1.15" />
<text x="214.55" y="400.60" font-size="8.5" text-anchor="middle" fill="#2b2b2b" font-weight="normal" font-family="Liberation Sans" stroke="#2b2b2b" stroke-width="0.18">60</text>
<line x1="244.50" y1="385.00" x2="244.50" y2="388.80" stroke="#111" stroke-width="1.15" />
<text x="244.50" y="400.60" font-size="8.5" text-anchor="middle" fill="#2b2b2b" font-weight="normal" font-family="Liberation Sans" stroke="#2b2b2b" stroke-width="0.18">72</text>
<text x="18.90" y="335.25" font-size="10.6" text-anchor="middle" fill="#111" stroke="#111" stroke-width="0.3" font-family="Liberation Sans" textLength="52.9" lengthAdjust="spacingAndGlyphs" transform="rotate(-90 18.90 335.25)">DFS probability</text>
<text x="151.90" y="416.50" font-size="10.9" text-anchor="middle" fill="#111" stroke="#111" stroke-width="0.3" font-family="Liberation Sans" textLength="56.2" lengthAdjust="spacingAndGlyphs">Months from CR</text>
<text x="70.00" y="369.80" font-size="7.8" text-anchor="start" fill="#2b2b2b" font-weight="normal" font-family="Liberation Sans" stroke="#2b2b2b" stroke-width="0.18"><tspan font-style="italic">P</tspan> &lt; .0001</text>
<path d="M64.60,290.80H66.67V290.77H68.73V290.74H70.80V290.71H73.10V291.18H75.40V291.64H77.43V292.80H79.47V294.60H81.50V296.40H83.57V298.20H85.63V300.00H87.70V301.80H89.73V302.47H91.77V303.13H93.80V303.80H95.87V304.03H97.93V304.27H100.00V304.50H102.07V305.30H104.13V306.10H106.20V306.90H108.23V308.03H110.27V309.17H112.30V310.30H114.60V310.85H116.90V311.40H119.20V311.95H121.50V312.50H123.83V313.00H126.15V313.50H128.48V314.00H130.80V314.50H133.10V314.80H135.40V315.10H137.70V315.40H140.00V315.70H142.00V316.06H144.00V316.42H146.00V316.78H148.00V317.14H150.00V317.50H152.50V318.00H155.00V318.50H157.50V319.00H159.35V320.50H161.20V320.80H163.24V320.80H165.29V320.80H167.33V320.80H169.37V320.80H171.42V320.80H173.46V320.80H175.50V320.80H177.55V320.80H179.59V320.80H181.63V320.80H183.68V320.80H185.72V320.80H187.76V320.80H189.81V320.80H191.85V320.80H193.89V320.80H195.94V320.80H197.98V320.80H200.02V320.80H202.07V320.80H204.11V320.80H206.15V320.80H208.20V320.80H210.24V320.80H212.28V320.80H214.33V320.80H216.37V320.80H218.41V320.80H220.46V320.80H222.50V320.80L222.50,334.20L222.50,334.20L220.46,334.20L220.46,334.20L218.41,334.20L218.41,334.20L216.37,334.20L216.37,334.20L214.33,334.20L214.33,334.20L212.28,334.20L212.28,334.20L210.24,334.20L210.24,334.20L208.20,334.20L208.20,334.20L206.15,334.20L206.15,334.20L204.11,334.20L204.11,334.20L202.07,334.20L202.07,334.20L200.02,334.20L200.02,334.20L197.98,334.20L197.98,334.20L195.94,334.20L195.94,334.20L193.89,334.20L193.89,334.20L191.85,334.20L191.85,334.20L189.81,334.20L189.81,334.20L187.76,334.20L187.76,334.20L185.72,334.20L185.72,334.20L183.68,334.20L183.68,334.20L181.63,334.20L181.63,334.20L179.59,334.20L179.59,334.20L177.55,334.20L177.55,334.20L175.50,334.20L175.50,334.20L173.46,334.20L173.46,334.20L171.42,334.20L171.42,334.20L169.37,334.20L169.37,334.20L167.33,334.20L167.33,334.20L165.29,334.20L165.29,334.20L163.24,334.20L163.24,334.20L161.20,334.20L161.20,331.50L159.35,331.50L159.35,330.00L157.50,330.00L157.50,329.50L155.00,329.50L155.00,329.00L152.50,329.00L152.50,328.50L150.00,328.50L150.00,328.14L148.00,328.14L148.00,327.78L146.00,327.78L146.00,327.42L144.00,327.42L144.00,327.06L142.00,327.06L142.00,326.70L140.00,326.70L140.00,326.40L137.70,326.40L137.70,326.10L135.40,326.10L135.40,325.80L133.10,325.80L133.10,325.50L130.80,325.50L130.80,325.00L128.48,325.00L128.48,324.50L126.15,324.50L126.15,324.00L123.83,324.00L123.83,323.50L121.50,323.50L121.50,322.95L119.20,322.95L119.20,322.40L116.90,322.40L116.90,321.85L114.60,321.85L114.60,321.30L112.30,321.30L112.30,320.17L110.27,320.17L110.27,319.03L108.23,319.03L108.23,317.90L106.20,317.90L106.20,317.10L104.13,317.10L104.13,316.30L102.07,316.30L102.07,315.50L100.00,315.50L100.00,315.27L97.93,315.27L97.93,315.03L95.87,315.03L95.87,314.80L93.80,314.80L93.80,314.13L91.77,314.13L91.77,313.47L89.73,313.47L89.73,312.80L87.70,312.80L87.70,311.00L85.63,311.00L85.63,309.20L83.57,309.20L83.57,307.40L81.50,307.40L81.50,305.60L79.47,305.60L79.47,303.80L77.43,303.80L77.43,301.36L75.40,301.36L75.40,298.82L73.10,298.82L73.10,296.29L70.80,296.29L70.80,294.46L68.73,294.46L68.73,292.63L66.67,292.63L66.67,290.80L64.60,290.80Z" fill="#2e4997" fill-opacity="0.55" stroke="none"/>
<path d="M64.60,290.80H66.13V291.55H67.67V292.29H69.20V293.04H69.97V294.10H70.75V295.16H71.53V296.22H72.30V297.28H72.92V298.45H73.54V299.68H74.16V301.22H74.78V302.76H75.40V304.30H76.55V305.85H77.70V307.40H78.85V308.95H80.00V310.50H82.07V312.03H84.13V313.57H86.20V315.10H88.23V316.90H90.27V318.70H92.30V320.50H94.87V322.30H97.43V324.10H100.00V325.90H102.30V326.85H104.60V327.80H106.90V328.75H109.20V329.70H111.53V330.65H113.85V331.60H116.17V332.55H118.50V333.50H120.80V334.10H123.10V334.70H125.40V335.30H127.70V335.90H130.00V336.30H132.30V336.70H134.60V337.10H136.90V337.50H139.20V337.90H141.36V338.56H143.52V339.22H145.68V339.88H147.84V340.54H150.00V341.20H152.14V341.49H154.29V341.77H156.43V342.06H158.57V342.34H160.71V342.63H162.86V342.91H165.00V343.20H167.19V343.32H169.38V343.45H171.56V343.57H173.75V343.70H175.94V343.82H178.12V343.95H180.31V344.07H182.50V344.20H184.69V344.32H186.88V344.45H189.06V344.57H191.25V344.70H193.44V344.82H195.62V344.95H197.81V345.07H200.00V345.20H202.07V345.22H204.13V345.24H206.20V345.27H208.26V345.29H210.33V345.31H212.39V345.33H214.46V345.35H216.52V345.37H218.59V345.40H220.65V345.42H222.72V345.44H224.78V345.46H226.85V345.48H228.91V345.50H230.98V345.53H233.04V345.55H235.11V345.57H237.17V345.59H239.24V345.61H241.30V345.63H243.37V345.66H245.43V345.68H247.50V345.70L247.50,356.30L247.50,356.28L245.43,356.28L245.43,356.26L243.37,356.26L243.37,356.23L241.30,356.23L241.30,356.21L239.24,356.21L239.24,356.19L237.17,356.19L237.17,356.17L235.11,356.17L235.11,356.15L233.04,356.15L233.04,356.13L230.98,356.13L230.98,356.10L228.91,356.10L228.91,356.08L226.85,356.08L226.85,356.06L224.78,356.06L224.78,356.04L222.72,356.04L222.72,356.02L220.65,356.02L220.65,356.00L218.59,356.00L218.59,355.97L216.52,355.97L216.52,355.95L214.46,355.95L214.46,355.93L212.39,355.93L212.39,355.91L210.33,355.91L210.33,355.89L208.26,355.89L208.26,355.87L206.20,355.87L206.20,355.84L204.13,355.84L204.13,355.82L202.07,355.82L202.07,355.80L200.00,355.80L200.00,355.68L197.81,355.68L197.81,355.55L195.62,355.55L195.62,355.43L193.44,355.43L193.44,355.30L191.25,355.30L191.25,355.18L189.06,355.18L189.06,355.05L186.88,355.05L186.88,354.93L184.69,354.93L184.69,354.80L182.50,354.80L182.50,354.68L180.31,354.68L180.31,354.55L178.12,354.55L178.12,354.43L175.94,354.43L175.94,354.30L173.75,354.30L173.75,354.18L171.56,354.18L171.56,354.05L169.38,354.05L169.38,353.93L167.19,353.93L167.19,353.80L165.00,353.80L165.00,353.51L162.86,353.51L162.86,353.23L160.71,353.23L160.71,352.94L158.57,352.94L158.57,352.66L156.43,352.66L156.43,352.37L154.29,352.37L154.29,352.09L152.14,352.09L152.14,351.80L150.00,351.80L150.00,351.14L147.84,351.14L147.84,350.48L145.68,350.48L145.68,349.82L143.52,349.82L143.52,349.16L141.36,349.16L141.36,348.50L139.20,348.50L139.20,348.10L136.90,348.10L136.90,347.70L134.60,347.70L134.60,347.30L132.30,347.30L132.30,346.90L130.00,346.90L130.00,346.50L127.70,346.50L127.70,345.90L125.40,345.90L125.40,345.30L123.10,345.30L123.10,344.70L120.80,344.70L120.80,344.10L118.50,344.10L118.50,343.15L116.17,343.15L116.17,342.20L113.85,342.20L113.85,341.25L111.53,341.25L111.53,340.30L109.20,340.30L109.20,339.35L106.90,339.35L106.90,338.40L104.60,338.40L104.60,337.45L102.30,337.45L102.30,336.50L100.00,336.50L100.00,334.70L97.43,334.70L97.43,332.90L94.87,332.90L94.87,331.10L92.30,331.10L92.30,329.30L90.27,329.30L90.27,327.50L88.23,327.50L88.23,325.70L86.20,325.70L86.20,324.17L84.13,324.17L84.13,322.63L82.07,322.63L82.07,321.10L80.00,321.10L80.00,319.55L78.85,319.55L78.85,318.00L77.70,318.00L77.70,316.45L76.55,316.45L76.55,314.90L75.40,314.90L75.40,313.36L74.78,313.36L74.78,311.82L74.16,311.82L74.16,310.28L73.54,310.28L73.54,308.43L72.92,308.43L72.92,306.52L72.30,306.52L72.30,304.53L71.53,304.53L71.53,302.54L70.75,302.54L70.75,300.55L69.97,300.55L69.97,298.56L69.20,298.56L69.20,295.97L67.67,295.97L67.67,293.39L66.13,293.39L66.13,290.80L64.60,290.80Z" fill="#dc2e25" fill-opacity="0.55" stroke="none"/>
<path d="M64.60,290.80H66.67V291.70H68.73V292.60H70.80V293.50H73.10V295.00H75.40V296.50H77.43V298.30H79.47V300.10H81.50V301.90H83.57V303.70H85.63V305.50H87.70V307.30H89.73V307.97H91.77V308.63H93.80V309.30H95.87V309.53H97.93V309.77H100.00V310.00H102.07V310.80H104.13V311.60H106.20V312.40H108.23V313.53H110.27V314.67H112.30V315.80H114.60V316.35H116.90V316.90H119.20V317.45H121.50V318.00H123.83V318.50H126.15V319.00H128.48V319.50H130.80V320.00H133.10V320.30H135.40V320.60H137.70V320.90H140.00V321.20H142.00V321.56H144.00V321.92H146.00V322.28H148.00V322.64H150.00V323.00H152.50V323.50H155.00V324.00H157.50V324.50H159.35V326.00H161.20V327.50H163.24V327.52H165.29V327.53H167.33V327.55H169.37V327.57H171.42V327.58H173.46V327.60H175.50V327.62H177.55V327.63H179.59V327.65H181.63V327.67H183.68V327.68H185.72V327.70H187.76V327.72H189.81V327.73H191.85V327.75H193.89V327.77H195.94V327.78H197.98V327.80H200.02V327.82H202.07V327.83H204.11V327.85H206.15V327.87H208.20V327.88H210.24V327.90H212.28V327.92H214.33V327.93H216.37V327.95H218.41V327.97H220.46V327.98H222.50V328.00" fill="none" stroke="#1f4e8c" stroke-width="1.4" />
<path d="M64.60,290.80H66.13V292.47H67.67V294.13H69.20V295.80H69.97V297.32H70.75V298.85H71.53V300.38H72.30V301.90H72.92V303.44H73.54V304.98H74.16V306.52H74.78V308.06H75.40V309.60H76.55V311.15H77.70V312.70H78.85V314.25H80.00V315.80H82.07V317.33H84.13V318.87H86.20V320.40H88.23V322.20H90.27V324.00H92.30V325.80H94.87V327.60H97.43V329.40H100.00V331.20H102.30V332.15H104.60V333.10H106.90V334.05H109.20V335.00H111.53V335.95H113.85V336.90H116.17V337.85H118.50V338.80H120.80V339.40H123.10V340.00H125.40V340.60H127.70V341.20H130.00V341.60H132.30V342.00H134.60V342.40H136.90V342.80H139.20V343.20H141.36V343.86H143.52V344.52H145.68V345.18H147.84V345.84H150.00V346.50H152.14V346.79H154.29V347.07H156.43V347.36H158.57V347.64H160.71V347.93H162.86V348.21H165.00V348.50H167.19V348.62H169.38V348.75H171.56V348.88H173.75V349.00H175.94V349.12H178.12V349.25H180.31V349.38H182.50V349.50H184.69V349.62H186.88V349.75H189.06V349.88H191.25V350.00H193.44V350.12H195.62V350.25H197.81V350.38H200.00V350.50H202.07V350.52H204.13V350.54H206.20V350.57H208.26V350.59H210.33V350.61H212.39V350.63H214.46V350.65H216.52V350.67H218.59V350.70H220.65V350.72H222.72V350.74H224.78V350.76H226.85V350.78H228.91V350.80H230.98V350.83H233.04V350.85H235.11V350.87H237.17V350.89H239.24V350.91H241.30V350.93H243.37V350.96H245.43V350.98H247.50V351.00" fill="none" stroke="#c20e2e" stroke-width="1.4" />
<line x1="86.00" y1="303.50" x2="86.00" y2="307.50" stroke="#1f4e8c" stroke-width="0.9" />
<line x1="94.00" y1="307.30" x2="94.00" y2="311.30" stroke="#1f4e8c" stroke-width="0.9" />
<line x1="98.00" y1="307.77" x2="98.00" y2="311.77" stroke="#1f4e8c" stroke-width="0.9" />
<line x1="102.00" y1="308.00" x2="102.00" y2="312.00" stroke="#1f4e8c" stroke-width="0.9" />
<line x1="106.00" y1="309.60" x2="106.00" y2="313.60" stroke="#1f4e8c" stroke-width="0.9" />
<line x1="110.00" y1="311.53" x2="110.00" y2="315.53" stroke="#1f4e8c" stroke-width="0.9" />
<line x1="114.00" y1="313.80" x2="114.00" y2="317.80" stroke="#1f4e8c" stroke-width="0.9" />
<line x1="118.00" y1="314.90" x2="118.00" y2="318.90" stroke="#1f4e8c" stroke-width="0.9" />
<line x1="121.00" y1="315.45" x2="121.00" y2="319.45" stroke="#1f4e8c" stroke-width="0.9" />
<line x1="124.00" y1="316.50" x2="124.00" y2="320.50" stroke="#1f4e8c" stroke-width="0.9" />
<line x1="127.00" y1="317.00" x2="127.00" y2="321.00" stroke="#1f4e8c" stroke-width="0.9" />
<line x1="130.00" y1="317.50" x2="130.00" y2="321.50" stroke="#1f4e8c" stroke-width="0.9" />
<line x1="133.00" y1="318.00" x2="133.00" y2="322.00" stroke="#1f4e8c" stroke-width="0.9" />
<line x1="136.00" y1="318.60" x2="136.00" y2="322.60" stroke="#1f4e8c" stroke-width="0.9" />
<line x1="139.00" y1="318.90" x2="139.00" y2="322.90" stroke="#1f4e8c" stroke-width="0.9" />
<line x1="142.00" y1="319.56" x2="142.00" y2="323.56" stroke="#1f4e8c" stroke-width="0.9" />
<line x1="145.00" y1="319.92" x2="145.00" y2="323.92" stroke="#1f4e8c" stroke-width="0.9" />
<line x1="148.00" y1="320.64" x2="148.00" y2="324.64" stroke="#1f4e8c" stroke-width="0.9" />
<line x1="151.00" y1="321.00" x2="151.00" y2="325.00" stroke="#1f4e8c" stroke-width="0.9" />
<line x1="154.00" y1="321.50" x2="154.00" y2="325.50" stroke="#1f4e8c" stroke-width="0.9" />
<line x1="158.00" y1="322.50" x2="158.00" y2="326.50" stroke="#1f4e8c" stroke-width="0.9" />
<line x1="163.00" y1="325.50" x2="163.00" y2="329.50" stroke="#1f4e8c" stroke-width="0.9" />
<line x1="166.00" y1="325.53" x2="166.00" y2="329.53" stroke="#1f4e8c" stroke-width="0.9" />
<line x1="169.00" y1="325.55" x2="169.00" y2="329.55" stroke="#1f4e8c" stroke-width="0.9" />
<line x1="172.00" y1="325.58" x2="172.00" y2="329.58" stroke="#1f4e8c" stroke-width="0.9" />
<line x1="175.00" y1="325.60" x2="175.00" y2="329.60" stroke="#1f4e8c" stroke-width="0.9" />
<line x1="178.00" y1="325.63" x2="178.00" y2="329.63" stroke="#1f4e8c" stroke-width="0.9" />
<line x1="181.00" y1="325.65" x2="181.00" y2="329.65" stroke="#1f4e8c" stroke-width="0.9" />
<line x1="184.00" y1="325.68" x2="184.00" y2="329.68" stroke="#1f4e8c" stroke-width="0.9" />
<line x1="187.00" y1="325.70" x2="187.00" y2="329.70" stroke="#1f4e8c" stroke-width="0.9" />
<line x1="190.00" y1="325.73" x2="190.00" y2="329.73" stroke="#1f4e8c" stroke-width="0.9" />
<line x1="193.00" y1="325.75" x2="193.00" y2="329.75" stroke="#1f4e8c" stroke-width="0.9" />
<line x1="196.00" y1="325.78" x2="196.00" y2="329.78" stroke="#1f4e8c" stroke-width="0.9" />
<line x1="199.00" y1="325.80" x2="199.00" y2="329.80" stroke="#1f4e8c" stroke-width="0.9" />
<line x1="202.00" y1="325.82" x2="202.00" y2="329.82" stroke="#1f4e8c" stroke-width="0.9" />
<line x1="206.00" y1="325.85" x2="206.00" y2="329.85" stroke="#1f4e8c" stroke-width="0.9" />
<line x1="210.00" y1="325.88" x2="210.00" y2="329.88" stroke="#1f4e8c" stroke-width="0.9" />
<line x1="214.00" y1="325.92" x2="214.00" y2="329.92" stroke="#1f4e8c" stroke-width="0.9" />
<line x1="218.00" y1="325.95" x2="218.00" y2="329.95" stroke="#1f4e8c" stroke-width="0.9" />
<line x1="222.00" y1="325.98" x2="222.00" y2="329.98" stroke="#1f4e8c" stroke-width="0.9" />
<line x1="80.00" y1="313.80" x2="80.00" y2="317.80" stroke="#c20e2e" stroke-width="0.9" />
<line x1="85.00" y1="316.87" x2="85.00" y2="320.87" stroke="#c20e2e" stroke-width="0.9" />
<line x1="91.00" y1="322.00" x2="91.00" y2="326.00" stroke="#c20e2e" stroke-width="0.9" />
<line x1="97.00" y1="325.60" x2="97.00" y2="329.60" stroke="#c20e2e" stroke-width="0.9" />
<line x1="104.00" y1="330.15" x2="104.00" y2="334.15" stroke="#c20e2e" stroke-width="0.9" />
<line x1="110.00" y1="333.00" x2="110.00" y2="337.00" stroke="#c20e2e" stroke-width="0.9" />
<line x1="116.00" y1="334.90" x2="116.00" y2="338.90" stroke="#c20e2e" stroke-width="0.9" />
<line x1="121.00" y1="337.40" x2="121.00" y2="341.40" stroke="#c20e2e" stroke-width="0.9" />
<line x1="126.00" y1="338.60" x2="126.00" y2="342.60" stroke="#c20e2e" stroke-width="0.9" />
<line x1="131.00" y1="339.60" x2="131.00" y2="343.60" stroke="#c20e2e" stroke-width="0.9" />
<line x1="136.00" y1="340.40" x2="136.00" y2="344.40" stroke="#c20e2e" stroke-width="0.9" />
<line x1="141.00" y1="341.20" x2="141.00" y2="345.20" stroke="#c20e2e" stroke-width="0.9" />
<line x1="146.00" y1="343.18" x2="146.00" y2="347.18" stroke="#c20e2e" stroke-width="0.9" />
<line x1="150.00" y1="344.50" x2="150.00" y2="348.50" stroke="#c20e2e" stroke-width="0.9" />
<line x1="155.00" y1="345.07" x2="155.00" y2="349.07" stroke="#c20e2e" stroke-width="0.9" />
<line x1="159.00" y1="345.64" x2="159.00" y2="349.64" stroke="#c20e2e" stroke-width="0.9" />
<line x1="163.00" y1="346.21" x2="163.00" y2="350.21" stroke="#c20e2e" stroke-width="0.9" />
<line x1="167.00" y1="346.50" x2="167.00" y2="350.50" stroke="#c20e2e" stroke-width="0.9" />
<line x1="171.00" y1="346.75" x2="171.00" y2="350.75" stroke="#c20e2e" stroke-width="0.9" />
<line x1="175.00" y1="347.00" x2="175.00" y2="351.00" stroke="#c20e2e" stroke-width="0.9" />
<line x1="178.00" y1="347.12" x2="178.00" y2="351.12" stroke="#c20e2e" stroke-width="0.9" />
<line x1="181.00" y1="347.38" x2="181.00" y2="351.38" stroke="#c20e2e" stroke-width="0.9" />
<line x1="184.00" y1="347.50" x2="184.00" y2="351.50" stroke="#c20e2e" stroke-width="0.9" />
<line x1="187.00" y1="347.75" x2="187.00" y2="351.75" stroke="#c20e2e" stroke-width="0.9" />
<line x1="190.00" y1="347.88" x2="190.00" y2="351.88" stroke="#c20e2e" stroke-width="0.9" />
<line x1="193.00" y1="348.00" x2="193.00" y2="352.00" stroke="#c20e2e" stroke-width="0.9" />
<line x1="196.00" y1="348.25" x2="196.00" y2="352.25" stroke="#c20e2e" stroke-width="0.9" />
<line x1="199.00" y1="348.38" x2="199.00" y2="352.38" stroke="#c20e2e" stroke-width="0.9" />
<line x1="202.00" y1="348.50" x2="202.00" y2="352.50" stroke="#c20e2e" stroke-width="0.9" />
<line x1="205.00" y1="348.54" x2="205.00" y2="352.54" stroke="#c20e2e" stroke-width="0.9" />
<line x1="208.00" y1="348.57" x2="208.00" y2="352.57" stroke="#c20e2e" stroke-width="0.9" />
<line x1="211.00" y1="348.61" x2="211.00" y2="352.61" stroke="#c20e2e" stroke-width="0.9" />
<line x1="214.00" y1="348.63" x2="214.00" y2="352.63" stroke="#c20e2e" stroke-width="0.9" />
<line x1="216.00" y1="348.65" x2="216.00" y2="352.65" stroke="#c20e2e" stroke-width="0.9" />
<line x1="218.00" y1="348.67" x2="218.00" y2="352.67" stroke="#c20e2e" stroke-width="0.9" />
<line x1="220.00" y1="348.70" x2="220.00" y2="352.70" stroke="#c20e2e" stroke-width="0.9" />
<line x1="222.00" y1="348.72" x2="222.00" y2="352.72" stroke="#c20e2e" stroke-width="0.9" />
<line x1="225.00" y1="348.76" x2="225.00" y2="352.76" stroke="#c20e2e" stroke-width="0.9" />
<line x1="228.00" y1="348.78" x2="228.00" y2="352.78" stroke="#c20e2e" stroke-width="0.9" />
<line x1="231.00" y1="348.83" x2="231.00" y2="352.83" stroke="#c20e2e" stroke-width="0.9" />
<line x1="234.00" y1="348.85" x2="234.00" y2="352.85" stroke="#c20e2e" stroke-width="0.9" />
<line x1="237.00" y1="348.87" x2="237.00" y2="352.87" stroke="#c20e2e" stroke-width="0.9" />
<line x1="240.00" y1="348.91" x2="240.00" y2="352.91" stroke="#c20e2e" stroke-width="0.9" />
<line x1="243.00" y1="348.93" x2="243.00" y2="352.93" stroke="#c20e2e" stroke-width="0.9" />
<line x1="246.00" y1="348.98" x2="246.00" y2="352.98" stroke="#c20e2e" stroke-width="0.9" />
<line x1="56.60" y1="424.00" x2="56.60" y2="452.60" stroke="#000" stroke-width="1.4" />
<line x1="55.90" y1="451.90" x2="247.50" y2="451.90" stroke="#000" stroke-width="1.4" />
<line x1="64.80" y1="451.90" x2="64.80" y2="455.70" stroke="#111" stroke-width="1.15" />
<text x="64.80" y="468.50" font-size="8.5" text-anchor="middle" fill="#2b2b2b" font-weight="normal" font-family="Liberation Sans" stroke="#2b2b2b" stroke-width="0.18">0</text>
<line x1="94.75" y1="451.90" x2="94.75" y2="455.70" stroke="#111" stroke-width="1.15" />
<text x="94.75" y="468.50" font-size="8.5" text-anchor="middle" fill="#2b2b2b" font-weight="normal" font-family="Liberation Sans" stroke="#2b2b2b" stroke-width="0.18">12</text>
<line x1="124.70" y1="451.90" x2="124.70" y2="455.70" stroke="#111" stroke-width="1.15" />
<text x="124.70" y="468.50" font-size="8.5" text-anchor="middle" fill="#2b2b2b" font-weight="normal" font-family="Liberation Sans" stroke="#2b2b2b" stroke-width="0.18">24</text>
<line x1="154.65" y1="451.90" x2="154.65" y2="455.70" stroke="#111" stroke-width="1.15" />
<text x="154.65" y="468.50" font-size="8.5" text-anchor="middle" fill="#2b2b2b" font-weight="normal" font-family="Liberation Sans" stroke="#2b2b2b" stroke-width="0.18">36</text>
<line x1="184.60" y1="451.90" x2="184.60" y2="455.70" stroke="#111" stroke-width="1.15" />
<text x="184.60" y="468.50" font-size="8.5" text-anchor="middle" fill="#2b2b2b" font-weight="normal" font-family="Liberation Sans" stroke="#2b2b2b" stroke-width="0.18">48</text>
<line x1="214.55" y1="451.90" x2="214.55" y2="455.70" stroke="#111" stroke-width="1.15" />
<text x="214.55" y="468.50" font-size="8.5" text-anchor="middle" fill="#2b2b2b" font-weight="normal" font-family="Liberation Sans" stroke="#2b2b2b" stroke-width="0.18">60</text>
<line x1="244.50" y1="451.90" x2="244.50" y2="455.70" stroke="#111" stroke-width="1.15" />
<text x="244.50" y="468.50" font-size="8.5" text-anchor="middle" fill="#2b2b2b" font-weight="normal" font-family="Liberation Sans" stroke="#2b2b2b" stroke-width="0.18">72</text>
<line x1="45.40" y1="432.30" x2="52.40" y2="432.30" stroke="#a8183a" stroke-width="2.5" />
<text x="64.80" y="435.00" font-size="8.5" text-anchor="middle" fill="#c8283c" font-weight="normal" font-family="Liberation Sans" stroke="#c8283c" stroke-width="0.18">290</text>
<text x="94.75" y="435.00" font-size="8.5" text-anchor="middle" fill="#c8283c" font-weight="normal" font-family="Liberation Sans" stroke="#c8283c" stroke-width="0.18">166</text>
<text x="124.70" y="435.00" font-size="8.5" text-anchor="middle" fill="#c8283c" font-weight="normal" font-family="Liberation Sans" stroke="#c8283c" stroke-width="0.18">125</text>
<text x="154.65" y="435.00" font-size="8.5" text-anchor="middle" fill="#c8283c" font-weight="normal" font-family="Liberation Sans" stroke="#c8283c" stroke-width="0.18">104</text>
<text x="184.60" y="435.00" font-size="8.5" text-anchor="middle" fill="#c8283c" font-weight="normal" font-family="Liberation Sans" stroke="#c8283c" stroke-width="0.18">89</text>
<text x="214.55" y="435.00" font-size="8.5" text-anchor="middle" fill="#c8283c" font-weight="normal" font-family="Liberation Sans" stroke="#c8283c" stroke-width="0.18">72</text>
<text x="244.50" y="435.00" font-size="8.5" text-anchor="middle" fill="#c8283c" font-weight="normal" font-family="Liberation Sans" stroke="#c8283c" stroke-width="0.18">53</text>
<line x1="45.40" y1="445.60" x2="52.40" y2="445.60" stroke="#1b4a6e" stroke-width="2.5" />
<text x="64.80" y="448.30" font-size="8.5" text-anchor="middle" fill="#3c5f96" font-weight="normal" font-family="Liberation Sans" stroke="#3c5f96" stroke-width="0.18">185</text>
<text x="94.75" y="448.30" font-size="8.5" text-anchor="middle" fill="#3c5f96" font-weight="normal" font-family="Liberation Sans" stroke="#3c5f96" stroke-width="0.18">139</text>
<text x="124.70" y="448.30" font-size="8.5" text-anchor="middle" fill="#3c5f96" font-weight="normal" font-family="Liberation Sans" stroke="#3c5f96" stroke-width="0.18">115</text>
<text x="154.65" y="448.30" font-size="8.5" text-anchor="middle" fill="#3c5f96" font-weight="normal" font-family="Liberation Sans" stroke="#3c5f96" stroke-width="0.18">68</text>
<text x="184.60" y="448.30" font-size="8.5" text-anchor="middle" fill="#3c5f96" font-weight="normal" font-family="Liberation Sans" stroke="#3c5f96" stroke-width="0.18">17</text>
<text x="214.55" y="448.30" font-size="8.5" text-anchor="middle" fill="#3c5f96" font-weight="normal" font-family="Liberation Sans" stroke="#3c5f96" stroke-width="0.18">1</text>
<text x="244.50" y="448.30" font-size="8.5" text-anchor="middle" fill="#3c5f96" font-weight="normal" font-family="Liberation Sans" stroke="#3c5f96" stroke-width="0.18">0</text>
<text x="150.80" y="484.00" font-size="10.9" text-anchor="middle" fill="#111" stroke="#111" stroke-width="0.3" font-family="Liberation Sans" textLength="56.5" lengthAdjust="spacingAndGlyphs">Months from CR</text>
<rect x="101.30" y="498.80" width="8.8" height="5.4" fill="#dc2e25" fill-opacity="0.7"/>
<line x1="101.30" y1="501.50" x2="110.10" y2="501.50" stroke="#c20e2e" stroke-width="1.2" />
<line x1="103.10" y1="499.50" x2="103.10" y2="503.50" stroke="#c20e2e" stroke-width="0.8" />
<line x1="105.70" y1="499.50" x2="105.70" y2="503.50" stroke="#c20e2e" stroke-width="0.8" />
<line x1="108.30" y1="499.50" x2="108.30" y2="503.50" stroke="#c20e2e" stroke-width="0.8" />
<text x="114.00" y="504.30" font-size="7.6" text-anchor="start" fill="#2b2b2b" font-weight="normal" font-family="Liberation Sans" stroke="#2b2b2b" stroke-width="0.18">LAL0904</text>
<rect x="158.60" y="498.80" width="8.8" height="5.4" fill="#2e4997" fill-opacity="0.7"/>
<line x1="158.60" y1="501.50" x2="167.40" y2="501.50" stroke="#1f4e8c" stroke-width="1.2" />
<line x1="160.40" y1="499.50" x2="160.40" y2="503.50" stroke="#1f4e8c" stroke-width="0.8" />
<line x1="163.00" y1="499.50" x2="163.00" y2="503.50" stroke="#1f4e8c" stroke-width="0.8" />
<line x1="165.60" y1="499.50" x2="165.60" y2="503.50" stroke="#1f4e8c" stroke-width="0.8" />
<text x="171.00" y="504.30" font-size="7.6" text-anchor="start" fill="#2b2b2b" font-weight="normal" font-family="Liberation Sans" stroke="#2b2b2b" stroke-width="0.18">LAL1913</text>
<text x="272.30" y="269.50" font-size="16" text-anchor="start" fill="#000" font-weight="bold" font-family="Liberation Sans">D</text>
<line x1="314.80" y1="285.00" x2="314.80" y2="382.80" stroke="#000" stroke-width="1.4" />
<line x1="314.10" y1="382.10" x2="501.00" y2="382.10" stroke="#000" stroke-width="1.4" />
<line x1="310.80" y1="378.30" x2="314.80" y2="378.30" stroke="#111" stroke-width="1.15" />
<text x="306.00" y="381.30" font-size="8.5" text-anchor="end" fill="#2b2b2b" font-weight="normal" font-family="Liberation Sans" stroke="#2b2b2b" stroke-width="0.18">0%</text>
<line x1="310.80" y1="355.73" x2="314.80" y2="355.73" stroke="#111" stroke-width="1.15" />
<text x="306.00" y="358.73" font-size="8.5" text-anchor="end" fill="#2b2b2b" font-weight="normal" font-family="Liberation Sans" stroke="#2b2b2b" stroke-width="0.18">25%</text>
<line x1="310.80" y1="333.15" x2="314.80" y2="333.15" stroke="#111" stroke-width="1.15" />
<text x="306.00" y="336.15" font-size="8.5" text-anchor="end" fill="#2b2b2b" font-weight="normal" font-family="Liberation Sans" stroke="#2b2b2b" stroke-width="0.18">50%</text>
<line x1="310.80" y1="310.57" x2="314.80" y2="310.57" stroke="#111" stroke-width="1.15" />
<text x="306.00" y="313.57" font-size="8.5" text-anchor="end" fill="#2b2b2b" font-weight="normal" font-family="Liberation Sans" stroke="#2b2b2b" stroke-width="0.18">75%</text>
<line x1="310.80" y1="288.00" x2="314.80" y2="288.00" stroke="#111" stroke-width="1.15" />
<text x="306.00" y="291.00" font-size="8.5" text-anchor="end" fill="#2b2b2b" font-weight="normal" font-family="Liberation Sans" stroke="#2b2b2b" stroke-width="0.18">100%</text>
<line x1="323.90" y1="382.10" x2="323.90" y2="385.90" stroke="#111" stroke-width="1.15" />
<text x="323.90" y="397.90" font-size="8.5" text-anchor="middle" fill="#2b2b2b" font-weight="normal" font-family="Liberation Sans" stroke="#2b2b2b" stroke-width="0.18">0</text>
<line x1="352.75" y1="382.10" x2="352.75" y2="385.90" stroke="#111" stroke-width="1.15" />
<text x="352.75" y="397.90" font-size="8.5" text-anchor="middle" fill="#2b2b2b" font-weight="normal" font-family="Liberation Sans" stroke="#2b2b2b" stroke-width="0.18">12</text>
<line x1="381.60" y1="382.10" x2="381.60" y2="385.90" stroke="#111" stroke-width="1.15" />
<text x="381.60" y="397.90" font-size="8.5" text-anchor="middle" fill="#2b2b2b" font-weight="normal" font-family="Liberation Sans" stroke="#2b2b2b" stroke-width="0.18">24</text>
<line x1="410.45" y1="382.10" x2="410.45" y2="385.90" stroke="#111" stroke-width="1.15" />
<text x="410.45" y="397.90" font-size="8.5" text-anchor="middle" fill="#2b2b2b" font-weight="normal" font-family="Liberation Sans" stroke="#2b2b2b" stroke-width="0.18">36</text>
<line x1="439.30" y1="382.10" x2="439.30" y2="385.90" stroke="#111" stroke-width="1.15" />
<text x="439.30" y="397.90" font-size="8.5" text-anchor="middle" fill="#2b2b2b" font-weight="normal" font-family="Liberation Sans" stroke="#2b2b2b" stroke-width="0.18">48</text>
<line x1="468.15" y1="382.10" x2="468.15" y2="385.90" stroke="#111" stroke-width="1.15" />
<text x="468.15" y="397.90" font-size="8.5" text-anchor="middle" fill="#2b2b2b" font-weight="normal" font-family="Liberation Sans" stroke="#2b2b2b" stroke-width="0.18">60</text>
<line x1="497.00" y1="382.10" x2="497.00" y2="385.90" stroke="#111" stroke-width="1.15" />
<text x="497.00" y="397.90" font-size="8.5" text-anchor="middle" fill="#2b2b2b" font-weight="normal" font-family="Liberation Sans" stroke="#2b2b2b" stroke-width="0.18">72</text>
<text x="277.00" y="332.90" font-size="10.3" text-anchor="middle" fill="#111" stroke="#111" stroke-width="0.3" font-family="Liberation Sans" textLength="52.7" lengthAdjust="spacingAndGlyphs" transform="rotate(-90 277.00 332.90)">DFS probability</text>
<text x="408.40" y="414.50" font-size="10.9" text-anchor="middle" fill="#111" stroke="#111" stroke-width="0.3" font-family="Liberation Sans" textLength="56.7" lengthAdjust="spacingAndGlyphs">Months from CR</text>
<text x="322.60" y="369.60" font-size="7.8" text-anchor="start" fill="#2b2b2b" font-weight="normal" font-family="Liberation Sans" stroke="#2b2b2b" stroke-width="0.18"><tspan font-style="italic">P</tspan> = .0022</text>
<path d="M324.20,287.80H332.00V287.80H338.00V290.00H341.00V293.50H348.00V294.50H356.00V296.00H366.00V297.20H372.00V299.00H380.00V302.00H396.00V302.50H410.00V303.70H417.50V305.70H475.50V305.70L475.50,323.00L475.50,323.00L417.50,323.00L417.50,320.00L400.00,320.00L400.00,318.70L380.00,318.70L380.00,314.00L372.00,314.00L372.00,310.50L367.00,310.50L367.00,308.00L360.00,308.00L360.00,306.00L350.00,306.00L350.00,303.00L341.00,303.00L341.00,297.00L338.00,297.00L338.00,293.50L335.00,293.50L335.00,290.00L332.00,290.00L332.00,287.80L324.20,287.80Z" fill="#2e4997" fill-opacity="0.55" stroke="none"/>
<path d="M324.20,287.80H330.00V288.50H336.00V293.00H341.00V295.00H346.00V300.00H352.00V302.00H360.00V303.00H367.00V306.00H374.00V308.00H380.00V313.70H390.00V315.00H400.00V317.50H410.00V320.00H417.00V325.50H446.00V325.50L446.00,348.70L446.00,348.70L417.00,348.70L417.00,341.20L410.00,341.20L410.00,339.50L405.00,339.50L405.00,337.50L395.00,337.50L395.00,335.00L388.00,335.00L388.00,332.50L380.00,332.50L380.00,330.00L374.00,330.00L374.00,327.00L368.00,327.00L368.00,322.50L360.00,322.50L360.00,321.00L352.00,321.00L352.00,318.00L346.00,318.00L346.00,314.00L344.00,314.00L344.00,309.00L341.00,309.00L341.00,305.00L336.00,305.00L336.00,300.00L333.00,300.00L333.00,292.00L328.00,292.00L328.00,287.80L324.20,287.80Z" fill="#dc2e25" fill-opacity="0.55" stroke="none"/>
<path d="M324.20,287.80H331.80V288.50H334.90V290.50H338.00V293.50H341.10V297.40H343.40V299.20H348.80V300.50H356.50V302.00H362.60V303.50H367.20V305.80H371.00V308.20H374.90V309.40H390.00V310.00H400.00V311.20H410.00V312.50H416.20V314.50H420.00V315.00H476.70V315.00" fill="none" stroke="#1f4e8c" stroke-width="1.3" />
<path d="M324.20,287.80H327.20V288.90H330.30V291.20H333.40V295.10H336.50V298.90H341.10V300.50H343.40V305.10H346.50V309.70H348.80V312.80H351.80V313.50H359.50V314.00H364.20V315.80H367.20V318.20H370.30V319.70H376.50V321.20H379.50V322.30H382.60V325.00H395.00V326.20H400.00V328.00H405.00V330.50H410.00V332.50H415.00V335.50H417.50V338.20H447.00V338.20" fill="none" stroke="#c20e2e" stroke-width="1.3" />
<line x1="345.00" y1="297.20" x2="345.00" y2="301.20" stroke="#1f4e8c" stroke-width="0.9" />
<line x1="352.00" y1="298.50" x2="352.00" y2="302.50" stroke="#1f4e8c" stroke-width="0.9" />
<line x1="360.00" y1="300.00" x2="360.00" y2="304.00" stroke="#1f4e8c" stroke-width="0.9" />
<line x1="372.00" y1="306.20" x2="372.00" y2="310.20" stroke="#1f4e8c" stroke-width="0.9" />
<line x1="380.00" y1="307.40" x2="380.00" y2="311.40" stroke="#1f4e8c" stroke-width="0.9" />
<line x1="388.00" y1="307.40" x2="388.00" y2="311.40" stroke="#1f4e8c" stroke-width="0.9" />
<line x1="393.00" y1="308.00" x2="393.00" y2="312.00" stroke="#1f4e8c" stroke-width="0.9" />
<line x1="399.00" y1="308.00" x2="399.00" y2="312.00" stroke="#1f4e8c" stroke-width="0.9" />
<line x1="404.00" y1="309.20" x2="404.00" y2="313.20" stroke="#1f4e8c" stroke-width="0.9" />
<line x1="410.00" y1="310.50" x2="410.00" y2="314.50" stroke="#1f4e8c" stroke-width="0.9" />
<line x1="417.00" y1="312.50" x2="417.00" y2="316.50" stroke="#1f4e8c" stroke-width="0.9" />
<line x1="420.00" y1="313.00" x2="420.00" y2="317.00" stroke="#1f4e8c" stroke-width="0.9" />
<line x1="423.00" y1="313.00" x2="423.00" y2="317.00" stroke="#1f4e8c" stroke-width="0.9" />
<line x1="426.00" y1="313.00" x2="426.00" y2="317.00" stroke="#1f4e8c" stroke-width="0.9" />
<line x1="429.00" y1="313.00" x2="429.00" y2="317.00" stroke="#1f4e8c" stroke-width="0.9" />
<line x1="432.00" y1="313.00" x2="432.00" y2="317.00" stroke="#1f4e8c" stroke-width="0.9" />
<line x1="436.00" y1="313.00" x2="436.00" y2="317.00" stroke="#1f4e8c" stroke-width="0.9" />
<line x1="440.00" y1="313.00" x2="440.00" y2="317.00" stroke="#1f4e8c" stroke-width="0.9" />
<line x1="444.00" y1="313.00" x2="444.00" y2="317.00" stroke="#1f4e8c" stroke-width="0.9" />
<line x1="448.00" y1="313.00" x2="448.00" y2="317.00" stroke="#1f4e8c" stroke-width="0.9" />
<line x1="452.00" y1="313.00" x2="452.00" y2="317.00" stroke="#1f4e8c" stroke-width="0.9" />
<line x1="456.00" y1="313.00" x2="456.00" y2="317.00" stroke="#1f4e8c" stroke-width="0.9" />
<line x1="461.00" y1="313.00" x2="461.00" y2="317.00" stroke="#1f4e8c" stroke-width="0.9" />
<line x1="466.00" y1="313.00" x2="466.00" y2="317.00" stroke="#1f4e8c" stroke-width="0.9" />
<line x1="471.00" y1="313.00" x2="471.00" y2="317.00" stroke="#1f4e8c" stroke-width="0.9" />
<line x1="476.00" y1="313.00" x2="476.00" y2="317.00" stroke="#1f4e8c" stroke-width="0.9" />
<line x1="340.00" y1="296.90" x2="340.00" y2="300.90" stroke="#c20e2e" stroke-width="0.9" />
<line x1="350.00" y1="310.80" x2="350.00" y2="314.80" stroke="#c20e2e" stroke-width="0.9" />
<line x1="356.00" y1="311.50" x2="356.00" y2="315.50" stroke="#c20e2e" stroke-width="0.9" />
<line x1="362.00" y1="312.00" x2="362.00" y2="316.00" stroke="#c20e2e" stroke-width="0.9" />
<line x1="368.00" y1="316.20" x2="368.00" y2="320.20" stroke="#c20e2e" stroke-width="0.9" />
<line x1="373.00" y1="317.70" x2="373.00" y2="321.70" stroke="#c20e2e" stroke-width="0.9" />
<line x1="380.00" y1="320.30" x2="380.00" y2="324.30" stroke="#c20e2e" stroke-width="0.9" />
<line x1="386.00" y1="323.00" x2="386.00" y2="327.00" stroke="#c20e2e" stroke-width="0.9" />
<line x1="390.00" y1="323.00" x2="390.00" y2="327.00" stroke="#c20e2e" stroke-width="0.9" />
<line x1="394.00" y1="323.00" x2="394.00" y2="327.00" stroke="#c20e2e" stroke-width="0.9" />
<line x1="398.00" y1="324.20" x2="398.00" y2="328.20" stroke="#c20e2e" stroke-width="0.9" />
<line x1="404.00" y1="326.00" x2="404.00" y2="330.00" stroke="#c20e2e" stroke-width="0.9" />
<line x1="408.00" y1="328.50" x2="408.00" y2="332.50" stroke="#c20e2e" stroke-width="0.9" />
<line x1="418.00" y1="336.20" x2="418.00" y2="340.20" stroke="#c20e2e" stroke-width="0.9" />
<line x1="421.00" y1="336.20" x2="421.00" y2="340.20" stroke="#c20e2e" stroke-width="0.9" />
<line x1="424.00" y1="336.20" x2="424.00" y2="340.20" stroke="#c20e2e" stroke-width="0.9" />
<line x1="428.00" y1="336.20" x2="428.00" y2="340.20" stroke="#c20e2e" stroke-width="0.9" />
<line x1="433.00" y1="336.20" x2="433.00" y2="340.20" stroke="#c20e2e" stroke-width="0.9" />
<line x1="438.00" y1="336.20" x2="438.00" y2="340.20" stroke="#c20e2e" stroke-width="0.9" />
<line x1="443.00" y1="336.20" x2="443.00" y2="340.20" stroke="#c20e2e" stroke-width="0.9" />
<line x1="446.00" y1="336.20" x2="446.00" y2="340.20" stroke="#c20e2e" stroke-width="0.9" />
<line x1="314.80" y1="421.00" x2="314.80" y2="450.20" stroke="#000" stroke-width="1.4" />
<line x1="314.10" y1="449.50" x2="501.00" y2="449.50" stroke="#000" stroke-width="1.4" />
<line x1="323.90" y1="449.50" x2="323.90" y2="453.30" stroke="#111" stroke-width="1.15" />
<text x="323.90" y="466.10" font-size="8.5" text-anchor="middle" fill="#2b2b2b" font-weight="normal" font-family="Liberation Sans" stroke="#2b2b2b" stroke-width="0.18">0</text>
<line x1="352.75" y1="449.50" x2="352.75" y2="453.30" stroke="#111" stroke-width="1.15" />
<text x="352.75" y="466.10" font-size="8.5" text-anchor="middle" fill="#2b2b2b" font-weight="normal" font-family="Liberation Sans" stroke="#2b2b2b" stroke-width="0.18">12</text>
<line x1="381.60" y1="449.50" x2="381.60" y2="453.30" stroke="#111" stroke-width="1.15" />
<text x="381.60" y="466.10" font-size="8.5" text-anchor="middle" fill="#2b2b2b" font-weight="normal" font-family="Liberation Sans" stroke="#2b2b2b" stroke-width="0.18">24</text>
<line x1="410.45" y1="449.50" x2="410.45" y2="453.30" stroke="#111" stroke-width="1.15" />
<text x="410.45" y="466.10" font-size="8.5" text-anchor="middle" fill="#2b2b2b" font-weight="normal" font-family="Liberation Sans" stroke="#2b2b2b" stroke-width="0.18">36</text>
<line x1="439.30" y1="449.50" x2="439.30" y2="453.30" stroke="#111" stroke-width="1.15" />
<text x="439.30" y="466.10" font-size="8.5" text-anchor="middle" fill="#2b2b2b" font-weight="normal" font-family="Liberation Sans" stroke="#2b2b2b" stroke-width="0.18">48</text>
<line x1="468.15" y1="449.50" x2="468.15" y2="453.30" stroke="#111" stroke-width="1.15" />
<text x="468.15" y="466.10" font-size="8.5" text-anchor="middle" fill="#2b2b2b" font-weight="normal" font-family="Liberation Sans" stroke="#2b2b2b" stroke-width="0.18">60</text>
<line x1="497.00" y1="449.50" x2="497.00" y2="453.30" stroke="#111" stroke-width="1.15" />
<text x="497.00" y="466.10" font-size="8.5" text-anchor="middle" fill="#2b2b2b" font-weight="normal" font-family="Liberation Sans" stroke="#2b2b2b" stroke-width="0.18">72</text>
<line x1="303.70" y1="428.90" x2="311.20" y2="428.90" stroke="#a8183a" stroke-width="2.5" />
<text x="323.90" y="431.60" font-size="8.5" text-anchor="middle" fill="#c8283c" font-weight="normal" font-family="Liberation Sans" stroke="#c8283c" stroke-width="0.18">91</text>
<text x="352.75" y="431.60" font-size="8.5" text-anchor="middle" fill="#c8283c" font-weight="normal" font-family="Liberation Sans" stroke="#c8283c" stroke-width="0.18">60</text>
<text x="381.60" y="431.60" font-size="8.5" text-anchor="middle" fill="#c8283c" font-weight="normal" font-family="Liberation Sans" stroke="#c8283c" stroke-width="0.18">48</text>
<text x="410.45" y="431.60" font-size="8.5" text-anchor="middle" fill="#c8283c" font-weight="normal" font-family="Liberation Sans" stroke="#c8283c" stroke-width="0.18">19</text>
<text x="439.30" y="431.60" font-size="8.5" text-anchor="middle" fill="#c8283c" font-weight="normal" font-family="Liberation Sans" stroke="#c8283c" stroke-width="0.18">3</text>
<text x="468.15" y="431.60" font-size="8.5" text-anchor="middle" fill="#c8283c" font-weight="normal" font-family="Liberation Sans" stroke="#c8283c" stroke-width="0.18">0</text>
<text x="497.00" y="431.60" font-size="8.5" text-anchor="middle" fill="#c8283c" font-weight="normal" font-family="Liberation Sans" stroke="#c8283c" stroke-width="0.18">0</text>
<line x1="303.70" y1="442.20" x2="311.20" y2="442.20" stroke="#1b4a6e" stroke-width="2.5" />
<text x="323.90" y="444.90" font-size="8.5" text-anchor="middle" fill="#3c5f96" font-weight="normal" font-family="Liberation Sans" stroke="#3c5f96" stroke-width="0.18">94</text>
<text x="352.75" y="444.90" font-size="8.5" text-anchor="middle" fill="#3c5f96" font-weight="normal" font-family="Liberation Sans" stroke="#3c5f96" stroke-width="0.18">79</text>
<text x="381.60" y="444.90" font-size="8.5" text-anchor="middle" fill="#3c5f96" font-weight="normal" font-family="Liberation Sans" stroke="#3c5f96" stroke-width="0.18">67</text>
<text x="410.45" y="444.90" font-size="8.5" text-anchor="middle" fill="#3c5f96" font-weight="normal" font-family="Liberation Sans" stroke="#3c5f96" stroke-width="0.18">49</text>
<text x="439.30" y="444.90" font-size="8.5" text-anchor="middle" fill="#3c5f96" font-weight="normal" font-family="Liberation Sans" stroke="#3c5f96" stroke-width="0.18">14</text>
<text x="468.15" y="444.90" font-size="8.5" text-anchor="middle" fill="#3c5f96" font-weight="normal" font-family="Liberation Sans" stroke="#3c5f96" stroke-width="0.18">1</text>
<text x="497.00" y="444.90" font-size="8.5" text-anchor="middle" fill="#3c5f96" font-weight="normal" font-family="Liberation Sans" stroke="#3c5f96" stroke-width="0.18">0</text>
<text x="410.60" y="480.70" font-size="10.9" text-anchor="middle" fill="#111" stroke="#111" stroke-width="0.3" font-family="Liberation Sans" textLength="56.2" lengthAdjust="spacingAndGlyphs">Months from CR</text>
<rect x="359.50" y="489.30" width="8.8" height="5.4" fill="#dc2e25" fill-opacity="0.7"/>
<line x1="359.50" y1="492.00" x2="368.30" y2="492.00" stroke="#c20e2e" stroke-width="1.2" />
<line x1="361.30" y1="490.00" x2="361.30" y2="494.00" stroke="#c20e2e" stroke-width="0.8" />
<line x1="363.90" y1="490.00" x2="363.90" y2="494.00" stroke="#c20e2e" stroke-width="0.8" />
<line x1="366.50" y1="490.00" x2="366.50" y2="494.00" stroke="#c20e2e" stroke-width="0.8" />
<text x="372.00" y="494.80" font-size="7.6" text-anchor="start" fill="#2b2b2b" font-weight="normal" font-family="Liberation Sans" stroke="#2b2b2b" stroke-width="0.18">HCT</text>
<rect x="400.30" y="489.30" width="8.8" height="5.4" fill="#2e4997" fill-opacity="0.7"/>
<line x1="400.30" y1="492.00" x2="409.10" y2="492.00" stroke="#1f4e8c" stroke-width="1.2" />
<line x1="402.10" y1="490.00" x2="402.10" y2="494.00" stroke="#1f4e8c" stroke-width="0.8" />
<line x1="404.70" y1="490.00" x2="404.70" y2="494.00" stroke="#1f4e8c" stroke-width="0.8" />
<line x1="407.30" y1="490.00" x2="407.30" y2="494.00" stroke="#1f4e8c" stroke-width="0.8" />
<text x="413.00" y="494.80" font-size="7.6" text-anchor="start" fill="#2b2b2b" font-weight="normal" font-family="Liberation Sans" stroke="#2b2b2b" stroke-width="0.18">Chemotherapy</text>
<text x="9.60" y="527.60" font-size="16" text-anchor="start" fill="#000" font-weight="bold" font-family="Liberation Sans">E</text>
<line x1="56.60" y1="537.50" x2="56.60" y2="635.50" stroke="#000" stroke-width="1.4" />
<line x1="55.90" y1="634.80" x2="242.50" y2="634.80" stroke="#000" stroke-width="1.4" />
<line x1="52.60" y1="630.50" x2="56.60" y2="630.50" stroke="#111" stroke-width="1.15" />
<text x="47.80" y="633.50" font-size="8.5" text-anchor="end" fill="#2b2b2b" font-weight="normal" font-family="Liberation Sans" stroke="#2b2b2b" stroke-width="0.18">0%</text>
<line x1="52.60" y1="608.00" x2="56.60" y2="608.00" stroke="#111" stroke-width="1.15" />
<text x="47.80" y="611.00" font-size="8.5" text-anchor="end" fill="#2b2b2b" font-weight="normal" font-family="Liberation Sans" stroke="#2b2b2b" stroke-width="0.18">25%</text>
<line x1="52.60" y1="585.50" x2="56.60" y2="585.50" stroke="#111" stroke-width="1.15" />
<text x="47.80" y="588.50" font-size="8.5" text-anchor="end" fill="#2b2b2b" font-weight="normal" font-family="Liberation Sans" stroke="#2b2b2b" stroke-width="0.18">50%</text>
<line x1="52.60" y1="563.00" x2="56.60" y2="563.00" stroke="#111" stroke-width="1.15" />
<text x="47.80" y="566.00" font-size="8.5" text-anchor="end" fill="#2b2b2b" font-weight="normal" font-family="Liberation Sans" stroke="#2b2b2b" stroke-width="0.18">75%</text>
<line x1="52.60" y1="540.50" x2="56.60" y2="540.50" stroke="#111" stroke-width="1.15" />
<text x="47.80" y="543.50" font-size="8.5" text-anchor="end" fill="#2b2b2b" font-weight="normal" font-family="Liberation Sans" stroke="#2b2b2b" stroke-width="0.18">100%</text>
<line x1="65.00" y1="634.80" x2="65.00" y2="638.60" stroke="#111" stroke-width="1.15" />
<text x="65.00" y="650.60" font-size="8.5" text-anchor="middle" fill="#2b2b2b" font-weight="normal" font-family="Liberation Sans" stroke="#2b2b2b" stroke-width="0.18">0</text>
<line x1="94.00" y1="634.80" x2="94.00" y2="638.60" stroke="#111" stroke-width="1.15" />
<text x="94.00" y="650.60" font-size="8.5" text-anchor="middle" fill="#2b2b2b" font-weight="normal" font-family="Liberation Sans" stroke="#2b2b2b" stroke-width="0.18">12</text>
<line x1="123.00" y1="634.80" x2="123.00" y2="638.60" stroke="#111" stroke-width="1.15" />
<text x="123.00" y="650.60" font-size="8.5" text-anchor="middle" fill="#2b2b2b" font-weight="normal" font-family="Liberation Sans" stroke="#2b2b2b" stroke-width="0.18">24</text>
<line x1="152.00" y1="634.80" x2="152.00" y2="638.60" stroke="#111" stroke-width="1.15" />
<text x="152.00" y="650.60" font-size="8.5" text-anchor="middle" fill="#2b2b2b" font-weight="normal" font-family="Liberation Sans" stroke="#2b2b2b" stroke-width="0.18">36</text>
<line x1="181.00" y1="634.80" x2="181.00" y2="638.60" stroke="#111" stroke-width="1.15" />
<text x="181.00" y="650.60" font-size="8.5" text-anchor="middle" fill="#2b2b2b" font-weight="normal" font-family="Liberation Sans" stroke="#2b2b2b" stroke-width="0.18">48</text>
<line x1="210.00" y1="634.80" x2="210.00" y2="638.60" stroke="#111" stroke-width="1.15" />
<text x="210.00" y="650.60" font-size="8.5" text-anchor="middle" fill="#2b2b2b" font-weight="normal" font-family="Liberation Sans" stroke="#2b2b2b" stroke-width="0.18">60</text>
<line x1="239.00" y1="634.80" x2="239.00" y2="638.60" stroke="#111" stroke-width="1.15" />
<text x="239.00" y="650.60" font-size="8.5" text-anchor="middle" fill="#2b2b2b" font-weight="normal" font-family="Liberation Sans" stroke="#2b2b2b" stroke-width="0.18">72</text>
<text x="18.40" y="585.10" font-size="10.6" text-anchor="middle" fill="#111" stroke="#111" stroke-width="0.3" font-family="Liberation Sans" textLength="52.6" lengthAdjust="spacingAndGlyphs" transform="rotate(-90 18.40 585.10)">DFS probability</text>
<text x="150.00" y="667.80" font-size="10.9" text-anchor="middle" fill="#111" stroke="#111" stroke-width="0.3" font-family="Liberation Sans" textLength="58.4" lengthAdjust="spacingAndGlyphs">Months from CR</text>
<text x="65.00" y="621.60" font-size="7.8" text-anchor="start" fill="#2b2b2b" font-weight="normal" font-family="Liberation Sans" stroke="#2b2b2b" stroke-width="0.18"><tspan font-style="italic">P</tspan> &lt; .0001</text>
<path d="M90.00,540.80H123.80V546.50H150.00V550.00H187.50V550.00L187.50,585.00L187.50,585.00L158.00,585.00L158.00,575.00L150.00,575.00L150.00,569.00L125.00,569.00L125.00,566.00L123.80,566.00L123.80,559.60L115.00,559.60L115.00,557.00L109.00,557.00L109.00,554.20L100.00,554.20L100.00,550.40L90.00,550.40Z" fill="#2e4997" fill-opacity="0.55" stroke="none"/>
<path d="M66.20,540.40H75.00V541.00H77.00V544.00H80.00V547.00H83.00V553.00H85.00V560.00H88.00V571.80H100.00V572.70H108.00V575.80H115.00V578.00H125.00V581.00H135.00V585.50H143.00V590.00H157.00V593.00H167.50V593.00L167.50,620.60L167.50,620.60L157.00,620.60L157.00,616.20L142.50,616.20L142.50,607.80L137.50,607.80L137.50,606.50L125.00,606.50L125.00,603.50L110.00,603.50L110.00,600.00L100.00,600.00L100.00,597.30L90.00,597.30L90.00,584.60L85.00,584.60L85.00,575.00L83.00,575.00L83.00,566.00L80.00,566.00L80.00,560.00L77.00,560.00L77.00,551.00L74.00,551.00L74.00,545.00L70.00,545.00L70.00,540.40L66.20,540.40Z" fill="#dc2e25" fill-opacity="0.55" stroke="none"/>
<path d="M66.20,540.40H90.00V545.80H100.00V548.10H109.20V551.20H115.40V553.20H123.80V558.80H150.00V562.50H158.00V570.50H188.70V570.50" fill="none" stroke="#1f4e8c" stroke-width="1.3" />
<path d="M66.20,540.40H69.20V542.70H72.30V545.80H74.60V549.60H76.90V556.50H79.20V559.60H81.50V563.50H83.10V567.30H84.60V573.50H85.40V578.10H87.70V583.50H90.80V585.80H96.90V586.50H104.60V588.10H107.70V590.40H109.20V592.70H115.40V593.50H123.10V596.50H134.00V597.20H136.00V598.50H138.00V600.00H140.00V601.50H142.00V604.00H144.00V607.30H156.00V607.30H157.20V610.50H158.50V612.30H168.70V612.30" fill="none" stroke="#c20e2e" stroke-width="1.3" />
<line x1="71.00" y1="538.40" x2="71.00" y2="542.40" stroke="#1f4e8c" stroke-width="0.9" />
<line x1="91.00" y1="543.80" x2="91.00" y2="547.80" stroke="#1f4e8c" stroke-width="0.9" />
<line x1="99.00" y1="543.80" x2="99.00" y2="547.80" stroke="#1f4e8c" stroke-width="0.9" />
<line x1="112.00" y1="549.20" x2="112.00" y2="553.20" stroke="#1f4e8c" stroke-width="0.9" />
<line x1="117.00" y1="551.20" x2="117.00" y2="555.20" stroke="#1f4e8c" stroke-width="0.9" />
<line x1="124.00" y1="556.80" x2="124.00" y2="560.80" stroke="#1f4e8c" stroke-width="0.9" />
<line x1="127.00" y1="556.80" x2="127.00" y2="560.80" stroke="#1f4e8c" stroke-width="0.9" />
<line x1="130.00" y1="556.80" x2="130.00" y2="560.80" stroke="#1f4e8c" stroke-width="0.9" />
<line x1="133.00" y1="556.80" x2="133.00" y2="560.80" stroke="#1f4e8c" stroke-width="0.9" />
<line x1="135.00" y1="556.80" x2="135.00" y2="560.80" stroke="#1f4e8c" stroke-width="0.9" />
<line x1="138.00" y1="556.80" x2="138.00" y2="560.80" stroke="#1f4e8c" stroke-width="0.9" />
<line x1="147.00" y1="556.80" x2="147.00" y2="560.80" stroke="#1f4e8c" stroke-width="0.9" />
<line x1="150.00" y1="560.50" x2="150.00" y2="564.50" stroke="#1f4e8c" stroke-width="0.9" />
<line x1="153.00" y1="560.50" x2="153.00" y2="564.50" stroke="#1f4e8c" stroke-width="0.9" />
<line x1="160.00" y1="568.50" x2="160.00" y2="572.50" stroke="#1f4e8c" stroke-width="0.9" />
<line x1="165.00" y1="568.50" x2="165.00" y2="572.50" stroke="#1f4e8c" stroke-width="0.9" />
<line x1="170.00" y1="568.50" x2="170.00" y2="572.50" stroke="#1f4e8c" stroke-width="0.9" />
<line x1="176.00" y1="568.50" x2="176.00" y2="572.50" stroke="#1f4e8c" stroke-width="0.9" />
<line x1="182.00" y1="568.50" x2="182.00" y2="572.50" stroke="#1f4e8c" stroke-width="0.9" />
<line x1="188.00" y1="568.50" x2="188.00" y2="572.50" stroke="#1f4e8c" stroke-width="0.9" />
<line x1="70.00" y1="540.70" x2="70.00" y2="544.70" stroke="#c20e2e" stroke-width="0.9" />
<line x1="72.00" y1="540.70" x2="72.00" y2="544.70" stroke="#c20e2e" stroke-width="0.9" />
<line x1="75.00" y1="547.60" x2="75.00" y2="551.60" stroke="#c20e2e" stroke-width="0.9" />
<line x1="78.00" y1="554.50" x2="78.00" y2="558.50" stroke="#c20e2e" stroke-width="0.9" />
<line x1="81.00" y1="557.60" x2="81.00" y2="561.60" stroke="#c20e2e" stroke-width="0.9" />
<line x1="89.00" y1="581.50" x2="89.00" y2="585.50" stroke="#c20e2e" stroke-width="0.9" />
<line x1="95.00" y1="583.80" x2="95.00" y2="587.80" stroke="#c20e2e" stroke-width="0.9" />
<line x1="99.00" y1="584.50" x2="99.00" y2="588.50" stroke="#c20e2e" stroke-width="0.9" />
<line x1="104.00" y1="584.50" x2="104.00" y2="588.50" stroke="#c20e2e" stroke-width="0.9" />
<line x1="110.00" y1="590.70" x2="110.00" y2="594.70" stroke="#c20e2e" stroke-width="0.9" />
<line x1="118.00" y1="591.50" x2="118.00" y2="595.50" stroke="#c20e2e" stroke-width="0.9" />
<line x1="128.00" y1="594.50" x2="128.00" y2="598.50" stroke="#c20e2e" stroke-width="0.9" />
<line x1="135.00" y1="595.20" x2="135.00" y2="599.20" stroke="#c20e2e" stroke-width="0.9" />
<line x1="141.00" y1="599.50" x2="141.00" y2="603.50" stroke="#c20e2e" stroke-width="0.9" />
<line x1="144.00" y1="605.30" x2="144.00" y2="609.30" stroke="#c20e2e" stroke-width="0.9" />
<line x1="160.00" y1="610.30" x2="160.00" y2="614.30" stroke="#c20e2e" stroke-width="0.9" />
<line x1="163.00" y1="610.30" x2="163.00" y2="614.30" stroke="#c20e2e" stroke-width="0.9" />
<line x1="166.00" y1="610.30" x2="166.00" y2="614.30" stroke="#c20e2e" stroke-width="0.9" />
<line x1="56.60" y1="674.50" x2="56.60" y2="702.70" stroke="#000" stroke-width="1.4" />
<line x1="55.90" y1="702.00" x2="242.50" y2="702.00" stroke="#000" stroke-width="1.4" />
<line x1="65.00" y1="702.00" x2="65.00" y2="705.80" stroke="#111" stroke-width="1.15" />
<text x="65.00" y="717.50" font-size="8.5" text-anchor="middle" fill="#2b2b2b" font-weight="normal" font-family="Liberation Sans" stroke="#2b2b2b" stroke-width="0.18">0</text>
<line x1="94.00" y1="702.00" x2="94.00" y2="705.80" stroke="#111" stroke-width="1.15" />
<text x="94.00" y="717.50" font-size="8.5" text-anchor="middle" fill="#2b2b2b" font-weight="normal" font-family="Liberation Sans" stroke="#2b2b2b" stroke-width="0.18">12</text>
<line x1="123.00" y1="702.00" x2="123.00" y2="705.80" stroke="#111" stroke-width="1.15" />
<text x="123.00" y="717.50" font-size="8.5" text-anchor="middle" fill="#2b2b2b" font-weight="normal" font-family="Liberation Sans" stroke="#2b2b2b" stroke-width="0.18">24</text>
<line x1="152.00" y1="702.00" x2="152.00" y2="705.80" stroke="#111" stroke-width="1.15" />
<text x="152.00" y="717.50" font-size="8.5" text-anchor="middle" fill="#2b2b2b" font-weight="normal" font-family="Liberation Sans" stroke="#2b2b2b" stroke-width="0.18">36</text>
<line x1="181.00" y1="702.00" x2="181.00" y2="705.80" stroke="#111" stroke-width="1.15" />
<text x="181.00" y="717.50" font-size="8.5" text-anchor="middle" fill="#2b2b2b" font-weight="normal" font-family="Liberation Sans" stroke="#2b2b2b" stroke-width="0.18">48</text>
<line x1="210.00" y1="702.00" x2="210.00" y2="705.80" stroke="#111" stroke-width="1.15" />
<text x="210.00" y="717.50" font-size="8.5" text-anchor="middle" fill="#2b2b2b" font-weight="normal" font-family="Liberation Sans" stroke="#2b2b2b" stroke-width="0.18">60</text>
<line x1="239.00" y1="702.00" x2="239.00" y2="705.80" stroke="#111" stroke-width="1.15" />
<text x="239.00" y="717.50" font-size="8.5" text-anchor="middle" fill="#2b2b2b" font-weight="normal" font-family="Liberation Sans" stroke="#2b2b2b" stroke-width="0.18">72</text>
<line x1="45.40" y1="681.10" x2="52.40" y2="681.10" stroke="#a8183a" stroke-width="2.5" />
<text x="65.00" y="683.80" font-size="8.5" text-anchor="middle" fill="#c8283c" font-weight="normal" font-family="Liberation Sans" stroke="#c8283c" stroke-width="0.18">91</text>
<text x="94.00" y="683.80" font-size="8.5" text-anchor="middle" fill="#c8283c" font-weight="normal" font-family="Liberation Sans" stroke="#c8283c" stroke-width="0.18">22</text>
<text x="123.00" y="683.80" font-size="8.5" text-anchor="middle" fill="#c8283c" font-weight="normal" font-family="Liberation Sans" stroke="#c8283c" stroke-width="0.18">16</text>
<text x="152.00" y="683.80" font-size="8.5" text-anchor="middle" fill="#c8283c" font-weight="normal" font-family="Liberation Sans" stroke="#c8283c" stroke-width="0.18">6</text>
<text x="181.00" y="683.80" font-size="8.5" text-anchor="middle" fill="#c8283c" font-weight="normal" font-family="Liberation Sans" stroke="#c8283c" stroke-width="0.18">0</text>
<text x="210.00" y="683.80" font-size="8.5" text-anchor="middle" fill="#c8283c" font-weight="normal" font-family="Liberation Sans" stroke="#c8283c" stroke-width="0.18">0</text>
<text x="239.00" y="683.80" font-size="8.5" text-anchor="middle" fill="#c8283c" font-weight="normal" font-family="Liberation Sans" stroke="#c8283c" stroke-width="0.18">0</text>
<line x1="45.40" y1="694.30" x2="52.40" y2="694.30" stroke="#1b4a6e" stroke-width="2.5" />
<text x="65.00" y="697.00" font-size="8.5" text-anchor="middle" fill="#3c5f96" font-weight="normal" font-family="Liberation Sans" stroke="#3c5f96" stroke-width="0.18">0</text>
<text x="94.00" y="697.00" font-size="8.5" text-anchor="middle" fill="#3c5f96" font-weight="normal" font-family="Liberation Sans" stroke="#3c5f96" stroke-width="0.18">38</text>
<text x="123.00" y="697.00" font-size="8.5" text-anchor="middle" fill="#3c5f96" font-weight="normal" font-family="Liberation Sans" stroke="#3c5f96" stroke-width="0.18">32</text>
<text x="152.00" y="697.00" font-size="8.5" text-anchor="middle" fill="#3c5f96" font-weight="normal" font-family="Liberation Sans" stroke="#3c5f96" stroke-width="0.18">13</text>
<text x="181.00" y="697.00" font-size="8.5" text-anchor="middle" fill="#3c5f96" font-weight="normal" font-family="Liberation Sans" stroke="#3c5f96" stroke-width="0.18">3</text>
<text x="210.00" y="697.00" font-size="8.5" text-anchor="middle" fill="#3c5f96" font-weight="normal" font-family="Liberation Sans" stroke="#3c5f96" stroke-width="0.18">0</text>
<text x="239.00" y="697.00" font-size="8.5" text-anchor="middle" fill="#3c5f96" font-weight="normal" font-family="Liberation Sans" stroke="#3c5f96" stroke-width="0.18">0</text>
<text x="152.20" y="734.00" font-size="10.9" text-anchor="middle" fill="#111" stroke="#111" stroke-width="0.3" font-family="Liberation Sans" textLength="58.4" lengthAdjust="spacingAndGlyphs">Months from CR</text>
<rect x="111.50" y="741.30" width="8.8" height="5.4" fill="#dc2e25" fill-opacity="0.7"/>
<line x1="111.50" y1="744.00" x2="120.30" y2="744.00" stroke="#c20e2e" stroke-width="1.2" />
<line x1="113.30" y1="742.00" x2="113.30" y2="746.00" stroke="#c20e2e" stroke-width="0.8" />
<line x1="115.90" y1="742.00" x2="115.90" y2="746.00" stroke="#c20e2e" stroke-width="0.8" />
<line x1="118.50" y1="742.00" x2="118.50" y2="746.00" stroke="#c20e2e" stroke-width="0.8" />
<text x="123.80" y="746.80" font-size="7.6" text-anchor="start" fill="#2b2b2b" font-weight="normal" font-family="Liberation Sans" stroke="#2b2b2b" stroke-width="0.18">No HCT</text>
<rect x="164.80" y="741.30" width="8.8" height="5.4" fill="#2e4997" fill-opacity="0.7"/>
<line x1="164.80" y1="744.00" x2="173.60" y2="744.00" stroke="#1f4e8c" stroke-width="1.2" />
<line x1="166.60" y1="742.00" x2="166.60" y2="746.00" stroke="#1f4e8c" stroke-width="0.8" />
<line x1="169.20" y1="742.00" x2="169.20" y2="746.00" stroke="#1f4e8c" stroke-width="0.8" />
<line x1="171.80" y1="742.00" x2="171.80" y2="746.00" stroke="#1f4e8c" stroke-width="0.8" />
<text x="176.80" y="746.80" font-size="7.6" text-anchor="start" fill="#2b2b2b" font-weight="normal" font-family="Liberation Sans" stroke="#2b2b2b" stroke-width="0.18">HCT</text>
<text x="268.50" y="528.00" font-size="16" text-anchor="start" fill="#000" font-weight="bold" font-family="Liberation Sans">F</text>
<line x1="313.80" y1="539.50" x2="313.80" y2="674.70" stroke="#000" stroke-width="1.4" />
<line x1="313.10" y1="674.00" x2="503.00" y2="674.00" stroke="#000" stroke-width="1.4" />
<line x1="309.80" y1="669.30" x2="313.80" y2="669.30" stroke="#111" stroke-width="1.15" />
<text x="306.00" y="672.30" font-size="8.5" text-anchor="end" fill="#2b2b2b" font-weight="normal" font-family="Liberation Sans" stroke="#2b2b2b" stroke-width="0.18">0%</text>
<line x1="309.80" y1="637.60" x2="313.80" y2="637.60" stroke="#111" stroke-width="1.15" />
<text x="306.00" y="640.60" font-size="8.5" text-anchor="end" fill="#2b2b2b" font-weight="normal" font-family="Liberation Sans" stroke="#2b2b2b" stroke-width="0.18">25%</text>
<line x1="309.80" y1="605.90" x2="313.80" y2="605.90" stroke="#111" stroke-width="1.15" />
<text x="306.00" y="608.90" font-size="8.5" text-anchor="end" fill="#2b2b2b" font-weight="normal" font-family="Liberation Sans" stroke="#2b2b2b" stroke-width="0.18">50%</text>
<line x1="309.80" y1="574.20" x2="313.80" y2="574.20" stroke="#111" stroke-width="1.15" />
<text x="306.00" y="577.20" font-size="8.5" text-anchor="end" fill="#2b2b2b" font-weight="normal" font-family="Liberation Sans" stroke="#2b2b2b" stroke-width="0.18">75%</text>
<line x1="309.80" y1="542.50" x2="313.80" y2="542.50" stroke="#111" stroke-width="1.15" />
<text x="306.00" y="545.50" font-size="8.5" text-anchor="end" fill="#2b2b2b" font-weight="normal" font-family="Liberation Sans" stroke="#2b2b2b" stroke-width="0.18">100%</text>
<line x1="323.75" y1="674.00" x2="323.75" y2="677.80" stroke="#111" stroke-width="1.15" />
<text x="323.75" y="690.40" font-size="8.5" text-anchor="middle" fill="#2b2b2b" font-weight="normal" font-family="Liberation Sans" stroke="#2b2b2b" stroke-width="0.18">0</text>
<line x1="378.43" y1="674.00" x2="378.43" y2="677.80" stroke="#111" stroke-width="1.15" />
<text x="378.43" y="690.40" font-size="8.5" text-anchor="middle" fill="#2b2b2b" font-weight="normal" font-family="Liberation Sans" stroke="#2b2b2b" stroke-width="0.18">20</text>
<line x1="433.12" y1="674.00" x2="433.12" y2="677.80" stroke="#111" stroke-width="1.15" />
<text x="433.12" y="690.40" font-size="8.5" text-anchor="middle" fill="#2b2b2b" font-weight="normal" font-family="Liberation Sans" stroke="#2b2b2b" stroke-width="0.18">40</text>
<line x1="487.80" y1="674.00" x2="487.80" y2="677.80" stroke="#111" stroke-width="1.15" />
<text x="487.80" y="690.40" font-size="8.5" text-anchor="middle" fill="#2b2b2b" font-weight="normal" font-family="Liberation Sans" stroke="#2b2b2b" stroke-width="0.18">60</text>
<text x="276.90" y="605.40" font-size="10.4" text-anchor="middle" fill="#111" stroke="#111" stroke-width="0.3" font-family="Liberation Sans" textLength="75.4" lengthAdjust="spacingAndGlyphs" transform="rotate(-90 276.90 605.40)">Cumulative probability</text>
<text x="409.00" y="706.20" font-size="11.2" text-anchor="middle" fill="#111" stroke="#111" stroke-width="0.3" font-family="Liberation Sans" textLength="25.8" lengthAdjust="spacingAndGlyphs">Months</text>
<path d="M328.40,666.90H338.80V665.80H341.60V663.40H344.50V659.40H348.00V654.80H352.60V652.50H358.40V651.30H364.10V650.20H373.40V646.70H378.00V644.40H385.00V641.00H395.00V638.00H405.00V636.00H415.00V634.00H425.00V631.00H433.00V628.00H468.00V628.00" fill="none" stroke="#1d5180" stroke-width="1.1" stroke-dasharray="1 1.6"/>
<path d="M329.50,665.20H341.00V665.00H344.00V664.50H352.60V661.80H470.00V661.80" fill="none" stroke="#c02a55" stroke-width="1.1" stroke-dasharray="1 1.6"/>
<path d="M324.30,667.50H327.20V661.10H329.00V658.30H338.80V657.70H344.50V655.60H348.00V654.20H351.40V650.80H354.90V649.60H375.70V648.50H385.00V647.50H392.00V647.00H413.00V645.20H431.00V643.70H499.70V643.70" fill="none" stroke="#c02a55" stroke-width="1.5" />
<path d="M324.30,667.50H326.70V664.60H329.00V660.60H330.70V658.80H335.30V657.70H337.60V653.60H341.00V651.30H345.70V649.80H350.30V648.50H354.90V645.00H364.10V644.40H368.70V642.70H374.50V639.80H378.00V638.70H385.00V638.00H392.00V636.50H400.00V635.00H409.00V633.00H417.00V632.00H430.00V629.20H433.00V628.40H499.70V628.40" fill="none" stroke="#1d5180" stroke-width="1.5" />
<text x="365.00" y="719.30" font-size="7.6" text-anchor="start" fill="#2b2b2b" font-weight="normal" font-family="Liberation Sans" stroke="#2b2b2b" stroke-width="0.18">event</text>
<line x1="365.30" y1="726.00" x2="373.70" y2="726.00" stroke="#c02a55" stroke-width="1.4" />
<text x="378.80" y="728.70" font-size="7.6" text-anchor="start" fill="#2b2b2b" font-weight="normal" font-family="Liberation Sans" stroke="#2b2b2b" stroke-width="0.18">Death (ID/CR)</text>
<line x1="365.30" y1="736.30" x2="373.70" y2="736.30" stroke="#1d5180" stroke-width="1.4" />
<text x="378.80" y="739.00" font-size="7.6" text-anchor="start" fill="#2b2b2b" font-weight="normal" font-family="Liberation Sans" stroke="#2b2b2b" stroke-width="0.18">Res/Rel</text>
<text x="433.70" y="719.30" font-size="7.6" text-anchor="start" fill="#2b2b2b" font-weight="normal" font-family="Liberation Sans" stroke="#2b2b2b" stroke-width="0.18">group</text>
<line x1="435.00" y1="726.00" x2="443.00" y2="726.00" stroke="#222" stroke-width="1.4" />
<text x="447.50" y="728.70" font-size="7.6" text-anchor="start" fill="#2b2b2b" font-weight="normal" font-family="Liberation Sans" stroke="#2b2b2b" stroke-width="0.18">B</text>
<line x1="435.00" y1="736.30" x2="443.00" y2="736.30" stroke="#222" stroke-width="1.0" stroke-dasharray="1 1.5"/>
<text x="447.50" y="739.00" font-size="7.6" text-anchor="start" fill="#2b2b2b" font-weight="normal" font-family="Liberation Sans" stroke="#2b2b2b" stroke-width="0.18">T</text>
<rect x="0" y="0" width="520" height="1.1" fill="#2d2d2d"/><rect x="0" y="756.8" width="520" height="1.2" fill="#2d2d2d"/><rect x="0" y="0" width="1.1" height="758" fill="#2d2d2d"/><rect x="518.8" y="0" width="1.2" height="758" fill="#2d2d2d"/>
</svg>
</body></html>
